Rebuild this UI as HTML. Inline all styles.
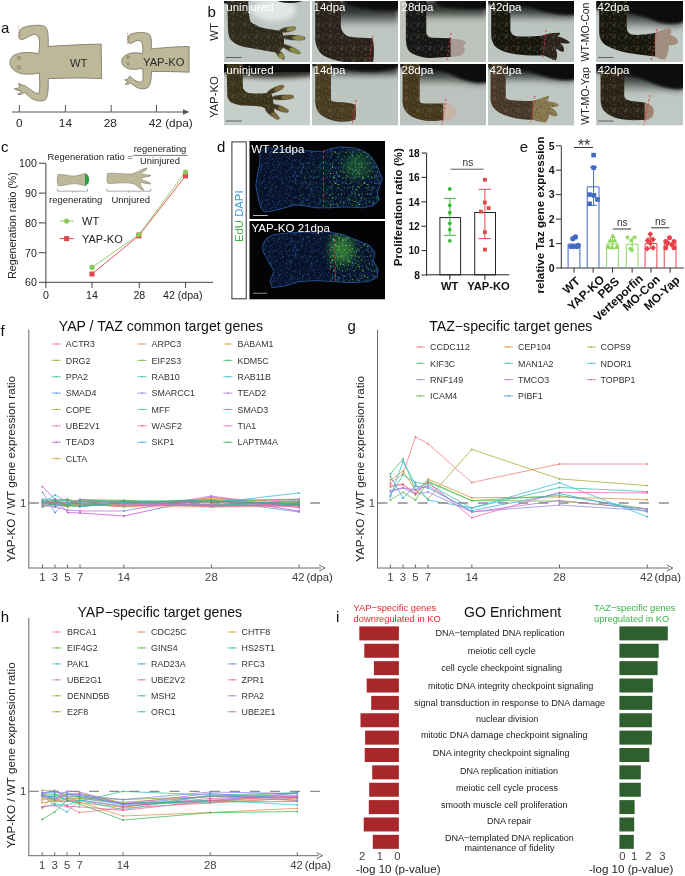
<!DOCTYPE html><html><head><meta charset="utf-8"><style>html,body{margin:0;padding:0;background:#fff;overflow:hidden;}svg{display:block;filter:blur(0.3px);}text{font-family:"Liberation Sans", sans-serif;}</style></head><body><svg width="685" height="876" viewBox="0 0 685 876" font-family='"Liberation Sans", sans-serif'>
<rect width="685" height="876" fill="#ffffff"/>
<text x="1.00" y="33.00" font-size="15" fill="#111" text-anchor="start" font-weight="normal" >a</text>
<path d="M62,265 C62,235 85,212 130,205 C170,198 215,205 240,210 C246,190 248,150 244,120 C240,100 230,88 210,90 C185,95 165,115 140,122 C125,125 118,112 118,95 C118,70 125,55 150,45 C190,32 250,28 280,40 C300,55 302,100 300,165 C380,160 500,152 630,150 L633,365 C520,358 400,362 300,365 C302,420 300,470 285,495 C265,510 230,505 200,490 C180,478 165,460 150,450 C140,462 120,470 110,462 C125,455 130,448 130,440 C115,440 98,436 90,428 C105,426 115,424 122,418 C122,410 118,402 115,395 C130,400 145,408 160,412 C190,430 215,458 240,458 C250,440 248,400 245,330 C210,338 175,340 140,335 C95,328 62,300 62,265 Z" transform="translate(0,20) scale(0.16059)" fill="#bdb898" stroke="#77735f" stroke-width="5"/>
<g transform="translate(0,20) scale(0.16059)" fill="none" stroke="#77735f" stroke-width="5"><circle cx="118" cy="237" r="10"/><circle cx="118" cy="296" r="10"/></g>
<line x1="18.95" y1="25.62" x2="18.95" y2="40.88" stroke="#e05050" stroke-width="0.7" stroke-dasharray="1.5,1.5"/>
<path d="M135,255 C135,232 160,212 200,205 C225,202 250,206 265,210 C268,190 268,165 262,145 C258,130 245,125 230,128 C215,133 200,145 185,147 C175,145 172,125 175,105 C180,88 210,80 245,78 C275,76 300,80 312,95 C322,115 320,150 320,180 C400,172 480,166 555,165 L555,325 C480,322 400,320 320,320 C320,360 318,395 300,418 C285,432 255,432 230,420 C212,410 200,398 190,392 C180,398 168,405 158,400 C166,393 170,388 172,383 C165,382 158,378 155,372 C165,372 172,368 178,362 C180,356 182,352 185,350 C195,358 210,372 230,382 C248,390 262,388 266,372 C270,350 268,330 265,300 C240,306 210,310 185,305 C155,298 135,280 135,255 Z" transform="translate(100,20) scale(0.16059)" fill="#bdb898" stroke="#77735f" stroke-width="5"/>
<g transform="translate(100,20) scale(0.16059)" fill="none" stroke="#77735f" stroke-width="5"><circle cx="175" cy="232" r="8"/><circle cx="175" cy="272" r="8"/></g>
<line x1="127.62" y1="32.85" x2="127.62" y2="44.89" stroke="#e05050" stroke-width="0.7" stroke-dasharray="1.5,1.5"/>
<text x="70.00" y="67.30" font-size="11.2" fill="#2a2a2a" text-anchor="start" font-weight="normal" >WT</text>
<text x="143.00" y="65.80" font-size="11.2" fill="#2a2a2a" text-anchor="start" font-weight="normal" >YAP-KO</text>
<line x1="12.00" y1="112.00" x2="186.00" y2="112.00" stroke="#555" stroke-width="1" />
<path d="M183,109.2 L189.5,112 L183,114.8 Z" fill="#555"/>
<line x1="19.30" y1="105.00" x2="19.30" y2="112.00" stroke="#555" stroke-width="1" />
<line x1="65.40" y1="105.00" x2="65.40" y2="112.00" stroke="#555" stroke-width="1" />
<line x1="111.20" y1="105.00" x2="111.20" y2="112.00" stroke="#555" stroke-width="1" />
<line x1="156.50" y1="105.00" x2="156.50" y2="112.00" stroke="#555" stroke-width="1" />
<text x="19.30" y="127.00" font-size="11.8" fill="#262626" text-anchor="middle" font-weight="normal" >0</text>
<text x="65.40" y="127.00" font-size="11.8" fill="#262626" text-anchor="middle" font-weight="normal" >14</text>
<text x="110.30" y="127.00" font-size="11.8" fill="#262626" text-anchor="middle" font-weight="normal" >28</text>
<text x="148.80" y="127.00" font-size="11.8" fill="#262626" text-anchor="start" font-weight="normal" >42 (dpa)</text>
<defs><filter id="soft" filterUnits="userSpaceOnUse" x="0" y="0" width="685" height="876"><feGaussianBlur stdDeviation="0.6"/></filter><filter id="blur2" filterUnits="userSpaceOnUse" x="0" y="0" width="685" height="876"><feGaussianBlur stdDeviation="2.5"/></filter><filter id="blur4" x="-20%" y="-50%" width="140%" height="200%"><feGaussianBlur stdDeviation="4"/></filter><filter id="sz" filterUnits="userSpaceOnUse" x="-3000" y="-3000" width="9000" height="9000"><feGaussianBlur stdDeviation="4.5"/></filter><filter id="sz2" filterUnits="userSpaceOnUse" x="-3000" y="-3000" width="9000" height="9000"><feGaussianBlur stdDeviation="9"/></filter><filter id="bz" filterUnits="userSpaceOnUse" x="-3000" y="-3000" width="9000" height="9000"><feGaussianBlur stdDeviation="30"/></filter><linearGradient id="shadowg" x1="0" y1="0" x2="0" y2="1"><stop offset="0" stop-color="#101210" stop-opacity="1"/><stop offset="0.5" stop-color="#262a27" stop-opacity="0.85"/><stop offset="0.8" stop-color="#50554f" stop-opacity="0.45"/><stop offset="1" stop-color="#707670" stop-opacity="0"/></linearGradient></defs>
<defs><pattern id="speck" width="90" height="90" patternUnits="userSpaceOnUse"><circle cx="56" cy="67" r="5.4" fill="#0a0806"/><circle cx="67" cy="83" r="3.1" fill="#c0b8a0"/><circle cx="70" cy="22" r="3.2" fill="#a89870"/><circle cx="10" cy="42" r="3.7" fill="#0a0806"/><circle cx="9" cy="22" r="5.2" fill="#c0b8a0"/><circle cx="25" cy="82" r="5.3" fill="#a89870"/><circle cx="69" cy="6" r="4.9" fill="#c0b8a0"/><circle cx="11" cy="0" r="5.6" fill="#a89870"/><circle cx="70" cy="86" r="3.5" fill="#a89870"/><circle cx="26" cy="87" r="4.6" fill="#0a0806"/><circle cx="56" cy="16" r="5.9" fill="#a89870"/><circle cx="87" cy="80" r="3.9" fill="#6a5a40"/><circle cx="37" cy="84" r="3.8" fill="#6a5a40"/><circle cx="27" cy="54" r="3.0" fill="#0a0806"/><circle cx="64" cy="6" r="4.1" fill="#6a5a40"/><circle cx="43" cy="28" r="4.4" fill="#0a0806"/><circle cx="16" cy="23" r="5.8" fill="#0a0806"/><circle cx="32" cy="36" r="4.6" fill="#c0b8a0"/><circle cx="33" cy="52" r="3.0" fill="#8a7a58"/><circle cx="64" cy="56" r="5.9" fill="#8a7a58"/><circle cx="68" cy="84" r="5.8" fill="#6a5a40"/><circle cx="46" cy="80" r="3.8" fill="#c0b8a0"/></pattern><pattern id="speckR" width="90" height="90" patternUnits="userSpaceOnUse" patternTransform="scale(0.13139)"><circle cx="56" cy="67" r="5.4" fill="#0a0806"/><circle cx="67" cy="83" r="3.1" fill="#c0b8a0"/><circle cx="70" cy="22" r="3.2" fill="#a89870"/><circle cx="10" cy="42" r="3.7" fill="#0a0806"/><circle cx="9" cy="22" r="5.2" fill="#c0b8a0"/><circle cx="25" cy="82" r="5.3" fill="#a89870"/><circle cx="69" cy="6" r="4.9" fill="#c0b8a0"/><circle cx="11" cy="0" r="5.6" fill="#a89870"/><circle cx="70" cy="86" r="3.5" fill="#a89870"/><circle cx="26" cy="87" r="4.6" fill="#0a0806"/><circle cx="56" cy="16" r="5.9" fill="#a89870"/><circle cx="87" cy="80" r="3.9" fill="#6a5a40"/><circle cx="37" cy="84" r="3.8" fill="#6a5a40"/><circle cx="27" cy="54" r="3.0" fill="#0a0806"/><circle cx="64" cy="6" r="4.1" fill="#6a5a40"/><circle cx="43" cy="28" r="4.4" fill="#0a0806"/><circle cx="16" cy="23" r="5.8" fill="#0a0806"/><circle cx="32" cy="36" r="4.6" fill="#c0b8a0"/><circle cx="33" cy="52" r="3.0" fill="#8a7a58"/><circle cx="64" cy="56" r="5.9" fill="#8a7a58"/><circle cx="68" cy="84" r="5.8" fill="#6a5a40"/><circle cx="46" cy="80" r="3.8" fill="#c0b8a0"/></pattern></defs>
<text x="207.50" y="16.60" font-size="15" fill="#111" text-anchor="start" font-weight="normal" >b</text>
<text x="0.00" y="0.00" font-size="11.3" fill="#222" text-anchor="middle" font-weight="normal" transform="translate(217.8,32) rotate(-90)">WT</text>
<text x="0.00" y="0.00" font-size="11.3" fill="#222" text-anchor="middle" font-weight="normal" transform="translate(217.8,97.2) rotate(-90)">YAP-KO</text>
<text x="0.00" y="0.00" font-size="10.5" fill="#222" text-anchor="middle" font-weight="normal" transform="translate(588.6,32) rotate(-90)">WT-MO-Con</text>
<text x="0.00" y="0.00" font-size="10.5" fill="#222" text-anchor="middle" font-weight="normal" transform="translate(588.6,96) rotate(-90)">WT-MO-Yap</text>
<clipPath id="c00"><rect x="224" y="1" width="86" height="61"/></clipPath>
<g clip-path="url(#c00)">
<rect x="224.00" y="1.00" width="86.00" height="61.00" fill="#bec7c2" />
<ellipse cx="274" cy="10" rx="22" ry="11" fill="#e2e7e4" filter="url(#blur2)"/>
<ellipse cx="290" cy="0" rx="13" ry="3" fill="#1a1a18"/>
<ellipse cx="232" cy="0" rx="14" ry="4" fill="#1a1a18"/>
<path d="M227.3,0 L248.3,0 C248.6,8 249,16 250.2,21 C251.5,23 253,24 254.8,24.3 C257,25.8 259,27 261.4,27.6 C265,28.7 268.5,29.3 271.9,29.6 C275,30.2 278,30.6 281,31 C284,34 285,42 283,48 C280,51 278,52.6 275.9,52.6 C271,51.5 266,50.5 261.4,49.9 C256,49 250,48.2 245.7,47.3 C241,46 237.5,45 235.1,43.4 C232,41.5 230,39 229.2,36.8 C228.2,33 227.9,30 227.9,26.3 Z" fill="#2f2a1e" filter="url(#soft)"/>
<path d="M227.3,0 L248.3,0 C248.6,8 249,16 250.2,21 C251.5,23 253,24 254.8,24.3 C257,25.8 259,27 261.4,27.6 C265,28.7 268.5,29.3 271.9,29.6 C275,30.2 278,30.6 281,31 C284,34 285,42 283,48 C280,51 278,52.6 275.9,52.6 C271,51.5 266,50.5 261.4,49.9 C256,49 250,48.2 245.7,47.3 C241,46 237.5,45 235.1,43.4 C232,41.5 230,39 229.2,36.8 C228.2,33 227.9,30 227.9,26.3 Z" fill="url(#speckR)" opacity="0.5"/>
<ellipse cx="287.50" cy="29.60" rx="8.63" ry="2.60" transform="rotate(-10.6 287.50 29.60)" fill="#3a3320" filter="url(#soft)"/>
<ellipse cx="290.80" cy="28.98" rx="4.58" ry="2.21" transform="rotate(-10.6 290.80 28.98)" fill="#8e8c4a" filter="url(#soft)"/>
<ellipse cx="293.75" cy="37.65" rx="11.77" ry="2.60" transform="rotate(3.5 293.75 37.65)" fill="#3a3320" filter="url(#soft)"/>
<ellipse cx="298.48" cy="37.94" rx="6.46" ry="2.21" transform="rotate(3.5 298.48 37.94)" fill="#8e8c4a" filter="url(#soft)"/>
<ellipse cx="290.75" cy="49.00" rx="10.62" ry="2.60" transform="rotate(24.6 290.75 49.00)" fill="#3a3320" filter="url(#soft)"/>
<ellipse cx="294.60" cy="50.76" rx="5.77" ry="2.21" transform="rotate(24.6 294.60 50.76)" fill="#8e8c4a" filter="url(#soft)"/>
<ellipse cx="279.75" cy="54.15" rx="6.59" ry="2.60" transform="rotate(47.9 279.75 54.15)" fill="#3a3320" filter="url(#soft)"/>
<ellipse cx="281.40" cy="55.98" rx="3.36" ry="2.21" transform="rotate(47.9 281.40 55.98)" fill="#8e8c4a" filter="url(#soft)"/>
<line x1="226.00" y1="57.50" x2="241.70" y2="57.50" stroke="#555" stroke-width="0.9" />
</g>
<text x="226.30" y="11.20" font-size="11.5" fill="#ffffff" text-anchor="start" font-weight="normal" >uninjured</text>
<clipPath id="c10"><rect x="312" y="1" width="86" height="61"/></clipPath>
<g clip-path="url(#c10)">
<rect x="312.00" y="1.00" width="86.00" height="61.00" fill="#bec7c2" />
<rect x="336" y="1" width="62" height="26" fill="url(#shadowg)" filter="url(#blur2)"/>
<g transform="translate(310,0) scale(0.13139)">
<path d="M250,-10 L690,-10 L690,70 C600,95 450,80 330,50 C290,40 260,25 250,-10 Z" fill="#3a3c3a" filter="url(#bz)" opacity="0.85"/>
<path d="M250,-10 L690,-10 L690,70 C600,95 450,80 330,50 C290,40 260,25 250,-10 Z" fill="#0d0d0c" filter="url(#sz2)"/>
<path d="M40,-10 L235,-10 L235,200 C240,240 260,265 300,280 C380,288 440,290 475,292 C490,340 490,420 480,470 L300,475 C230,472 150,450 100,420 C60,390 45,350 40,300 Z" fill="#29231a" filter="url(#sz)"/><path d="M40,-10 L235,-10 L235,200 C240,240 260,265 300,280 C380,288 440,290 475,292 C490,340 490,420 480,470 L300,475 C230,472 150,450 100,420 C60,390 45,350 40,300 Z" fill="url(#speck)" opacity="0.55"/>
</g>
<path d="M373,36 L369,62" stroke="#e0303a" stroke-width="0.9" fill="none" stroke-dasharray="2.2,2"/>
</g>
<text x="313.50" y="11.20" font-size="11.5" fill="#ffffff" text-anchor="start" font-weight="normal" >14dpa</text>
<clipPath id="c20"><rect x="400" y="1" width="86" height="61"/></clipPath>
<g clip-path="url(#c20)">
<rect x="400.00" y="1.00" width="86.00" height="61.00" fill="#bec3bd" />
<rect x="422" y="1" width="64" height="20" fill="url(#shadowg)" filter="url(#blur2)"/>
<g transform="translate(398,0) scale(0.13139)">
<path d="M280,-10 L690,-10 L690,60 C600,75 420,70 330,50 C300,40 285,20 280,-10 Z" fill="#3a3c3a" filter="url(#bz)" opacity="0.85"/>
<path d="M280,-10 L690,-10 L690,60 C600,75 420,70 330,50 C300,40 285,20 280,-10 Z" fill="#0d0d0c" filter="url(#sz2)"/>
<path d="M60,-10 L215,-10 L215,250 C220,275 235,285 260,288 L405,292 L405,432 L250,442 C180,440 120,420 85,390 C65,365 60,330 60,300 Z" fill="#151512" filter="url(#sz)"/><path d="M60,-10 L215,-10 L215,250 C220,275 235,285 260,288 L405,292 L405,432 L250,442 C180,440 120,420 85,390 C65,365 60,330 60,300 Z" fill="url(#speck)" opacity="0.55"/>
<path d="M400,295 C440,292 490,300 520,320 C515,340 495,345 500,360 C515,375 510,405 480,420 C450,432 420,433 400,432 Z" fill="#a89a92" filter="url(#sz)"/>
</g>
<path d="M451,33 L447,60" stroke="#e0303a" stroke-width="0.9" fill="none" stroke-dasharray="2.2,2"/>
</g>
<text x="401.50" y="11.20" font-size="11.5" fill="#ffffff" text-anchor="start" font-weight="normal" >28dpa</text>
<clipPath id="c30"><rect x="488" y="1" width="86" height="61"/></clipPath>
<g clip-path="url(#c30)">
<rect x="488.00" y="1.00" width="86.00" height="61.00" fill="#bcc5c0" />
<rect x="506" y="1" width="68" height="21" fill="url(#shadowg)" filter="url(#blur2)"/>
<g transform="translate(486,0) scale(0.13139)">
<path d="M15,-10 L690,-10 L690,110 C600,120 480,100 380,70 C300,50 200,40 15,30 Z" fill="#3a3c3a" filter="url(#bz)" opacity="0.85"/>
<path d="M15,-10 L690,-10 L690,110 C600,120 480,100 380,70 C300,50 200,40 15,30 Z" fill="#0d0d0c" filter="url(#sz2)"/>
<path d="M40,-10 L185,-10 L185,230 C190,255 205,270 230,276 C300,282 380,276 440,270 L440,420 C380,425 300,422 230,412 C150,400 90,380 60,340 C45,310 40,290 40,270 Z" fill="#121210" filter="url(#sz)"/><path d="M40,-10 L185,-10 L185,230 C190,255 205,270 230,276 C300,282 380,276 440,270 L440,420 C380,425 300,422 230,412 C150,400 90,380 60,340 C45,310 40,290 40,270 Z" fill="url(#speck)" opacity="0.55"/>
<path d="M430,270 C470,255 510,250 560,250 C570,258 560,268 540,275 C580,285 620,300 640,325 C620,335 590,330 560,330 C590,345 600,370 590,395 C570,395 550,380 530,370 C540,400 550,430 530,460 C500,455 470,430 430,420 Z" fill="#2a221d" filter="url(#sz)"/><path d="M430,270 C470,255 510,250 560,250 C570,258 560,268 540,275 C580,285 620,300 640,325 C620,335 590,330 560,330 C590,345 600,370 590,395 C570,395 550,380 530,370 C540,400 550,430 530,460 C500,455 470,430 430,420 Z" fill="url(#speck)" opacity="0.55"/>
</g>
<path d="M546,30 L543,58" stroke="#e0303a" stroke-width="0.9" fill="none" stroke-dasharray="2.2,2"/>
</g>
<text x="489.50" y="11.20" font-size="11.5" fill="#ffffff" text-anchor="start" font-weight="normal" >42dpa</text>
<clipPath id="c40"><rect x="596" y="1" width="87" height="61"/></clipPath>
<g clip-path="url(#c40)">
<rect x="596.00" y="1.00" width="87.00" height="61.00" fill="#c2cac5" />
<rect x="620" y="1" width="63" height="30" fill="url(#shadowg)" filter="url(#blur2)"/>
<g transform="translate(594,0) scale(0.13139)">
<path d="M15,-10 L690,-10 L690,160 C640,185 560,190 470,160 C400,130 300,90 15,70 Z" fill="#3a3c3a" filter="url(#bz)" opacity="0.85"/>
<path d="M15,-10 L690,-10 L690,160 C640,185 560,190 470,160 C400,130 300,90 15,70 Z" fill="#0d0d0c" filter="url(#sz2)"/>
<path d="M40,-10 L250,-10 L250,220 C255,245 270,260 300,265 C380,268 430,258 475,250 L475,430 C420,428 350,418 300,410 C220,398 150,380 90,345 C55,320 42,290 40,250 Z" fill="#151511" filter="url(#sz)"/><path d="M40,-10 L250,-10 L250,220 C255,245 270,260 300,265 C380,268 430,258 475,250 L475,430 C420,428 350,418 300,410 C220,398 150,380 90,345 C55,320 42,290 40,250 Z" fill="url(#speck)" opacity="0.55"/>
<path d="M465,250 C500,235 540,225 570,212 C590,215 595,240 580,265 C610,275 640,295 640,320 C630,345 600,345 570,345 C570,380 560,420 545,450 C520,460 490,445 465,430 Z" fill="#a28e7e" filter="url(#sz)"/>
</g>
<path d="M657,29 L651,62" stroke="#e0303a" stroke-width="0.9" fill="none" stroke-dasharray="2.2,2"/>
<line x1="598.00" y1="57.50" x2="613.70" y2="57.50" stroke="#555" stroke-width="0.9" />
</g>
<text x="597.50" y="11.20" font-size="11.5" fill="#ffffff" text-anchor="start" font-weight="normal" >42dpa</text>
<clipPath id="c01"><rect x="224" y="64" width="86" height="61.5"/></clipPath>
<g clip-path="url(#c01)">
<rect x="224.00" y="64.00" width="86.00" height="61.50" fill="#c6cec9" />
<ellipse cx="275" cy="68" rx="60" ry="10" fill="#2a2a28" filter="url(#blur2)"/>
<rect x="224" y="64" width="86" height="8" fill="#0c0c0c"/>
<path d="M226.6,64 L243,64 C243,72 242.5,82 243,88.3 C244.5,91 246.5,92.5 248.3,92.9 C253,93.5 257,93.6 261.4,93.5 C265,93.2 268,92.8 270.6,92.2 C273,96 274,106 274.6,114.6 C270,111 265.5,108 261.4,106.7 C255,105.8 248,105.6 241.7,105.4 C236,104.5 232,103 229.9,101.4 C227.8,99 227.3,97 227.3,94.8 Z" fill="#3a311f" filter="url(#soft)"/>
<path d="M226.6,64 L243,64 C243,72 242.5,82 243,88.3 C244.5,91 246.5,92.5 248.3,92.9 C253,93.5 257,93.6 261.4,93.5 C265,93.2 268,92.8 270.6,92.2 C273,96 274,106 274.6,114.6 C270,111 265.5,108 261.4,106.7 C255,105.8 248,105.6 241.7,105.4 C236,104.5 232,103 229.9,101.4 C227.8,99 227.3,97 227.3,94.8 Z" fill="url(#speckR)" opacity="0.5"/>
<ellipse cx="275.55" cy="89.65" rx="9.26" ry="2.60" transform="rotate(-23.9 275.55 89.65)" fill="#3e3420" filter="url(#soft)"/>
<ellipse cx="278.87" cy="88.18" rx="4.96" ry="2.21" transform="rotate(-23.9 278.87 88.18)" fill="#7c6a3a" filter="url(#soft)"/>
<ellipse cx="282.50" cy="97.40" rx="11.52" ry="2.60" transform="rotate(-3.3 282.50 97.40)" fill="#3e3420" filter="url(#soft)"/>
<ellipse cx="287.12" cy="97.14" rx="6.31" ry="2.21" transform="rotate(-3.3 287.12 97.14)" fill="#7c6a3a" filter="url(#soft)"/>
<ellipse cx="279.35" cy="108.15" rx="9.92" ry="2.60" transform="rotate(20.7 279.35 108.15)" fill="#3e3420" filter="url(#soft)"/>
<ellipse cx="283.02" cy="109.54" rx="5.35" ry="2.21" transform="rotate(20.7 283.02 109.54)" fill="#7c6a3a" filter="url(#soft)"/>
<ellipse cx="272.25" cy="113.75" rx="8.85" ry="2.60" transform="rotate(37.2 272.25 113.75)" fill="#3e3420" filter="url(#soft)"/>
<ellipse cx="275.00" cy="115.84" rx="4.71" ry="2.21" transform="rotate(37.2 275.00 115.84)" fill="#7c6a3a" filter="url(#soft)"/>
<line x1="226.00" y1="121.00" x2="241.70" y2="121.00" stroke="#555" stroke-width="0.9" />
</g>
<text x="226.30" y="73.80" font-size="11.5" fill="#ffffff" text-anchor="start" font-weight="normal" >uninjured</text>
<clipPath id="c11"><rect x="312" y="64" width="86" height="61.5"/></clipPath>
<g clip-path="url(#c11)">
<rect x="312.00" y="64.00" width="86.00" height="61.50" fill="#bcc5c0" />
<rect x="324" y="64" width="74" height="14" fill="url(#shadowg)" filter="url(#blur2)"/>
<g transform="translate(310,62) scale(0.13139)">
<path d="M15,0 L690,0 L690,30 C600,75 450,80 330,65 C260,55 150,40 15,30 Z" fill="#3a3c3a" filter="url(#bz)" opacity="0.85"/>
<path d="M15,0 L690,0 L690,30 C600,75 450,80 330,65 C260,55 150,40 15,30 Z" fill="#0d0d0c" filter="url(#sz2)"/>
<path d="M40,0 L160,0 L160,290 C165,300 180,305 250,306 C300,310 330,318 345,325 C352,360 352,410 345,440 C300,455 250,458 200,450 C130,440 80,410 55,370 C45,340 40,320 40,300 Z" fill="#4a3b24" filter="url(#sz)"/><path d="M40,0 L160,0 L160,290 C165,300 180,305 250,306 C300,310 330,318 345,325 C352,360 352,410 345,440 C300,455 250,458 200,450 C130,440 80,410 55,370 C45,340 40,320 40,300 Z" fill="url(#speck)" opacity="0.55"/>
</g>
<path d="M356,100 L352,125" stroke="#e0303a" stroke-width="0.9" fill="none" stroke-dasharray="2.2,2"/>
</g>
<text x="313.50" y="73.80" font-size="11.5" fill="#ffffff" text-anchor="start" font-weight="normal" >14dpa</text>
<clipPath id="c21"><rect x="400" y="64" width="86" height="61.5"/></clipPath>
<g clip-path="url(#c21)">
<rect x="400.00" y="64.00" width="86.00" height="61.50" fill="#bcc2bd" />
<rect x="414" y="64" width="72" height="22" fill="url(#shadowg)" filter="url(#blur2)"/>
<g transform="translate(398,62) scale(0.13139)">
<path d="M15,0 L690,0 L690,150 C620,170 520,150 420,100 C360,70 250,50 15,40 Z" fill="#3a3c3a" filter="url(#bz)" opacity="0.85"/>
<path d="M15,0 L690,0 L690,150 C620,170 520,150 420,100 C360,70 250,50 15,40 Z" fill="#0d0d0c" filter="url(#sz2)"/>
<path d="M35,0 L165,0 L165,300 C170,312 185,316 220,316 L352,316 L352,440 C300,450 250,452 200,445 C130,435 80,410 55,370 C40,345 35,320 35,300 Z" fill="#45371f" filter="url(#sz)"/><path d="M35,0 L165,0 L165,300 C170,312 185,316 220,316 L352,316 L352,440 C300,450 250,452 200,445 C130,435 80,410 55,370 C40,345 35,320 35,300 Z" fill="url(#speck)" opacity="0.55"/>
<path d="M345,315 C385,312 425,325 440,355 C448,385 440,420 410,435 C385,442 365,442 345,440 Z" fill="#c4b5a6" filter="url(#sz)"/>
</g>
<path d="M446,99 L442,125" stroke="#e0303a" stroke-width="0.9" fill="none" stroke-dasharray="2.2,2"/>
</g>
<text x="401.50" y="73.80" font-size="11.5" fill="#ffffff" text-anchor="start" font-weight="normal" >28dpa</text>
<clipPath id="c31"><rect x="488" y="64" width="86" height="61.5"/></clipPath>
<g clip-path="url(#c31)">
<rect x="488.00" y="64.00" width="86.00" height="61.50" fill="#bec7c2" />
<rect x="499" y="64" width="75" height="20" fill="url(#shadowg)" filter="url(#blur2)"/>
<g transform="translate(486,62) scale(0.13139)">
<path d="M15,0 L690,0 L690,130 C620,150 500,130 400,95 C330,70 250,55 15,45 Z" fill="#3a3c3a" filter="url(#bz)" opacity="0.85"/>
<path d="M15,0 L690,0 L690,130 C620,150 500,130 400,95 C330,70 250,55 15,45 Z" fill="#0d0d0c" filter="url(#sz2)"/>
<path d="M35,0 L150,0 L150,270 C160,285 175,292 250,295 C300,297 330,297 365,295 L365,440 C300,440 250,432 200,422 C130,405 80,380 55,345 C40,320 35,300 35,280 Z" fill="#47392a" filter="url(#sz)"/><path d="M35,0 L150,0 L150,270 C160,285 175,292 250,295 C300,297 330,297 365,295 L365,440 C300,440 250,432 200,422 C130,405 80,380 55,345 C40,320 35,300 35,280 Z" fill="url(#speck)" opacity="0.55"/>
<path d="M355,295 C400,285 440,265 470,258 C485,262 480,280 460,295 C500,305 545,310 555,330 C545,345 510,345 490,340 C520,360 545,380 545,405 C530,420 500,410 480,400 C480,420 470,450 450,460 C420,460 390,450 355,440 Z" fill="#887850" filter="url(#sz)"/><path d="M355,295 C400,285 440,265 470,258 C485,262 480,280 460,295 C500,305 545,310 555,330 C545,345 510,345 490,340 C520,360 545,380 545,405 C530,420 500,410 480,400 C480,420 470,450 450,460 C420,460 390,450 355,440 Z" fill="url(#speck)" opacity="0.55"/>
</g>
<path d="M535,96 L531,122" stroke="#e0303a" stroke-width="0.9" fill="none" stroke-dasharray="2.2,2"/>
</g>
<text x="489.50" y="73.80" font-size="11.5" fill="#ffffff" text-anchor="start" font-weight="normal" >42dpa</text>
<clipPath id="c41"><rect x="596" y="64" width="87" height="61.5"/></clipPath>
<g clip-path="url(#c41)">
<rect x="596.00" y="64.00" width="87.00" height="61.50" fill="#c0c8c3" />
<rect x="618" y="64" width="65" height="30" fill="url(#shadowg)" filter="url(#blur2)"/>
<g transform="translate(594,62) scale(0.13139)">
<path d="M15,0 L690,0 L690,200 C640,215 540,200 420,150 C340,115 250,95 15,80 Z" fill="#3a3c3a" filter="url(#bz)" opacity="0.85"/>
<path d="M15,0 L690,0 L690,200 C640,215 540,200 420,150 C340,115 250,95 15,80 Z" fill="#0d0d0c" filter="url(#sz2)"/>
<path d="M50,60 L230,60 L230,260 C235,280 255,292 300,298 C340,302 370,305 395,310 L395,440 C330,445 270,445 210,435 C140,422 90,395 65,355 C52,330 50,300 50,280 Z" fill="#2a2418" filter="url(#sz)"/><path d="M50,60 L230,60 L230,260 C235,280 255,292 300,298 C340,302 370,305 395,310 L395,440 C330,445 270,445 210,435 C140,422 90,395 65,355 C52,330 50,300 50,280 Z" fill="url(#speck)" opacity="0.55"/>
<path d="M385,312 C420,315 450,335 455,370 C455,405 440,430 410,440 L385,440 Z" fill="#a08272" filter="url(#sz)"/>
</g>
<path d="M650,95 L644,125" stroke="#e0303a" stroke-width="0.9" fill="none" stroke-dasharray="2.2,2"/>
<line x1="598.00" y1="121.00" x2="613.70" y2="121.00" stroke="#555" stroke-width="0.9" />
</g>
<text x="597.50" y="73.80" font-size="11.5" fill="#ffffff" text-anchor="start" font-weight="normal" >42dpa</text>
<text x="1.00" y="152.00" font-size="15" fill="#111" text-anchor="start" font-weight="normal" >c</text>
<line x1="45.90" y1="163.30" x2="45.90" y2="282.80" stroke="#444" stroke-width="1" />
<line x1="45.40" y1="282.30" x2="213.10" y2="282.30" stroke="#444" stroke-width="1" />
<line x1="38.90" y1="163.30" x2="45.90" y2="163.30" stroke="#444" stroke-width="1" />
<text x="36.80" y="167.10" font-size="10.6" fill="#222" text-anchor="end" font-weight="normal" >100</text>
<line x1="38.90" y1="193.10" x2="45.90" y2="193.10" stroke="#444" stroke-width="1" />
<text x="36.80" y="196.90" font-size="10.6" fill="#222" text-anchor="end" font-weight="normal" >90</text>
<line x1="38.90" y1="222.90" x2="45.90" y2="222.90" stroke="#444" stroke-width="1" />
<text x="36.80" y="226.70" font-size="10.6" fill="#222" text-anchor="end" font-weight="normal" >80</text>
<line x1="38.90" y1="252.70" x2="45.90" y2="252.70" stroke="#444" stroke-width="1" />
<text x="36.80" y="256.50" font-size="10.6" fill="#222" text-anchor="end" font-weight="normal" >70</text>
<line x1="38.90" y1="282.30" x2="45.90" y2="282.30" stroke="#444" stroke-width="1" />
<text x="36.80" y="286.10" font-size="10.6" fill="#222" text-anchor="end" font-weight="normal" >60</text>
<line x1="45.90" y1="282.30" x2="45.90" y2="288.00" stroke="#444" stroke-width="1" />
<line x1="92.00" y1="282.30" x2="92.00" y2="288.00" stroke="#444" stroke-width="1" />
<line x1="139.30" y1="282.30" x2="139.30" y2="288.00" stroke="#444" stroke-width="1" />
<line x1="185.50" y1="282.30" x2="185.50" y2="288.00" stroke="#444" stroke-width="1" />
<text x="45.90" y="298.60" font-size="10.6" fill="#222" text-anchor="middle" font-weight="normal" >0</text>
<text x="92.00" y="298.60" font-size="10.6" fill="#222" text-anchor="middle" font-weight="normal" >14</text>
<text x="139.30" y="298.60" font-size="10.6" fill="#222" text-anchor="middle" font-weight="normal" >28</text>
<text x="163.00" y="298.60" font-size="10.6" fill="#222" text-anchor="start" font-weight="normal" >42 (dpa)</text>
<text x="0.00" y="0.00" font-size="10.6" fill="#222" text-anchor="middle" font-weight="normal" transform="translate(15.6,225.5) rotate(-90)">Regeneration ratio (%)</text>
<text x="47.60" y="159.60" font-size="9.4" fill="#222" text-anchor="start" font-weight="normal" >Regeneration ratio =</text>
<text x="160.00" y="151.70" font-size="9.4" fill="#222" text-anchor="middle" font-weight="normal" >regenerating</text>
<line x1="133.30" y1="155.40" x2="187.60" y2="155.40" stroke="#555" stroke-width="0.8" />
<text x="160.00" y="164.20" font-size="9.4" fill="#222" text-anchor="middle" font-weight="normal" >Uninjured</text>
<path d="M58,174.5 C64,173.8 70,176.5 75,176 C80,175.5 84,173.3 86,173.6 L86,185.6 C83,186 80,184 75,183.6 C70,183.4 64,186.5 58,185.6 C57,182 57,178 58,174.5 Z" fill="#bdb898" stroke="#77735f" stroke-width="0.5"/>
<path d="M85,173.6 C88,174.5 89.2,177 89.2,179.6 C89.2,182.5 88,185 85,185.7 Z" fill="#2e9e3a"/>
<path d="M107.5,173.5 C115,172.5 125,174.5 132,174 C138,172 142,169 146,168 C148,167.8 147.5,169.5 145,170.8 C143,172 141,173.5 142,174.3 C145,174.8 149,174.5 151,175.6 C149,176.8 146,176.8 143,177.5 C141,178 141,179.2 143,180 C146,181.5 149.5,182 150.8,183.8 C148,184.2 144,183 141,182.4 C139,183.5 142,187 144,190.3 C142,190.5 139,188 136,185 C132,182.5 125,182.8 118,183 C112,183.3 109,184 107.5,183 C106.8,180 106.8,176.5 107.5,173.5 Z" fill="#bdb898" stroke="#77735f" stroke-width="0.5"/>
<path d="M57.5,188.5 L57.5,191.2 L87.6,191.2 L87.6,188.5 M72.5,191.2 L72.5,192.8" stroke="#888" stroke-width="0.7" fill="none"/>
<path d="M107.0,188.5 L107.0,191.2 L150.8,191.2 L150.8,188.5 M128.9,191.2 L128.9,192.8" stroke="#888" stroke-width="0.7" fill="none"/>
<text x="49.00" y="202.80" font-size="9.5" fill="#222" text-anchor="start" font-weight="normal" >regenerating</text>
<text x="111.40" y="202.80" font-size="9.5" fill="#222" text-anchor="start" font-weight="normal" >Unnjured</text>
<line x1="59.60" y1="221.10" x2="73.60" y2="221.10" stroke="#8cc95c" stroke-width="1" />
<circle cx="66.6" cy="221.1" r="2.6" fill="#8cc95c"/>
<text x="82.00" y="225.40" font-size="11" fill="#222" text-anchor="start" font-weight="normal" >WT</text>
<line x1="59.60" y1="238.60" x2="73.60" y2="238.60" stroke="#e0474c" stroke-width="1" />
<rect x="64.10" y="236.10" width="5.00" height="5.00" fill="#e0474c" />
<text x="82.00" y="242.90" font-size="11" fill="#222" text-anchor="start" font-weight="normal" >YAP-KO</text>
<polyline points="92,274 138.9,235.6 185.5,175.9" fill="none" stroke="#e0474c" stroke-width="0.9"/>
<polyline points="92,267.4 138.9,234.6 185.5,172" fill="none" stroke="#8cc95c" stroke-width="0.9"/>
<line x1="89.50" y1="272.50" x2="94.50" y2="272.50" stroke="#e0474c" stroke-width="0.6" />
<line x1="89.50" y1="275.50" x2="94.50" y2="275.50" stroke="#e0474c" stroke-width="0.6" />
<rect x="89.50" y="271.50" width="5.00" height="5.00" fill="#e0474c" />
<line x1="136.40" y1="233.10" x2="141.40" y2="233.10" stroke="#e0474c" stroke-width="0.6" />
<line x1="136.40" y1="238.10" x2="141.40" y2="238.10" stroke="#e0474c" stroke-width="0.6" />
<rect x="136.40" y="233.10" width="5.00" height="5.00" fill="#e0474c" />
<line x1="183.00" y1="174.70" x2="188.00" y2="174.70" stroke="#e0474c" stroke-width="0.6" />
<line x1="183.00" y1="177.10" x2="188.00" y2="177.10" stroke="#e0474c" stroke-width="0.6" />
<rect x="183.00" y="173.40" width="5.00" height="5.00" fill="#e0474c" />
<line x1="90.00" y1="265.60" x2="94.00" y2="265.60" stroke="#8cc95c" stroke-width="0.6" />
<line x1="90.00" y1="269.20" x2="94.00" y2="269.20" stroke="#8cc95c" stroke-width="0.6" />
<circle cx="92" cy="267.4" r="2.6" fill="#8cc95c"/>
<line x1="136.90" y1="233.10" x2="140.90" y2="233.10" stroke="#8cc95c" stroke-width="0.6" />
<line x1="136.90" y1="236.10" x2="140.90" y2="236.10" stroke="#8cc95c" stroke-width="0.6" />
<circle cx="138.9" cy="234.6" r="2.6" fill="#8cc95c"/>
<line x1="183.50" y1="171.00" x2="187.50" y2="171.00" stroke="#8cc95c" stroke-width="0.6" />
<line x1="183.50" y1="173.00" x2="187.50" y2="173.00" stroke="#8cc95c" stroke-width="0.6" />
<circle cx="185.5" cy="172" r="2.6" fill="#8cc95c"/>
<text x="217.00" y="151.90" font-size="15" fill="#111" text-anchor="start" font-weight="normal" >d</text>
<rect x="231.9" y="141.9" width="14.3" height="156.9" fill="none" stroke="#333" stroke-width="1"/>
<text transform="translate(243.3,216.2) rotate(-90)" font-size="11.3" text-anchor="middle"><tspan fill="#3fae49">EdU</tspan><tspan fill="#3b9bd8"> DAPI</tspan></text>
<rect x="249.50" y="141.00" width="135.50" height="78.00" fill="#040406" />
<rect x="249.50" y="221.00" width="135.50" height="78.30" fill="#040406" />
<defs><pattern id="bluedots" width="41" height="37" patternUnits="userSpaceOnUse"><rect width="41" height="37" fill="#08132a"/><circle cx="18.5" cy="20.7" r="0.53" fill="#183f80"/><circle cx="18.5" cy="31.6" r="0.35" fill="#3a70c0"/><circle cx="19.5" cy="22.7" r="0.35" fill="#183f80"/><circle cx="12.4" cy="3.4" r="0.50" fill="#14366e"/><circle cx="26.0" cy="22.0" r="0.40" fill="#183f80"/><circle cx="26.8" cy="22.8" r="0.34" fill="#2a5aa8"/><circle cx="34.1" cy="2.3" r="0.31" fill="#1f4c94"/><circle cx="24.6" cy="28.8" r="0.38" fill="#3a70c0"/><circle cx="34.5" cy="19.2" r="0.46" fill="#183f80"/><circle cx="0.2" cy="3.1" r="0.46" fill="#183f80"/><circle cx="40.9" cy="36.8" r="0.51" fill="#14366e"/><circle cx="10.4" cy="28.0" r="0.43" fill="#2a5aa8"/><circle cx="2.9" cy="28.4" r="0.40" fill="#305fb0"/><circle cx="15.8" cy="35.4" r="0.51" fill="#2a5aa8"/><circle cx="8.8" cy="34.3" r="0.31" fill="#183f80"/><circle cx="40.2" cy="14.7" r="0.32" fill="#14366e"/><circle cx="8.1" cy="25.0" r="0.38" fill="#305fb0"/><circle cx="13.6" cy="35.7" r="0.49" fill="#2a5aa8"/><circle cx="5.5" cy="26.2" r="0.30" fill="#183f80"/><circle cx="32.7" cy="6.6" r="0.44" fill="#183f80"/><circle cx="20.9" cy="36.5" r="0.49" fill="#183f80"/><circle cx="26.4" cy="4.3" r="0.41" fill="#1f4c94"/><circle cx="0.0" cy="32.0" r="0.54" fill="#3a70c0"/><circle cx="12.5" cy="32.7" r="0.35" fill="#183f80"/><circle cx="40.8" cy="22.3" r="0.44" fill="#2a5aa8"/><circle cx="40.6" cy="7.9" r="0.36" fill="#3a70c0"/><circle cx="13.5" cy="11.0" r="0.32" fill="#2a5aa8"/><circle cx="8.6" cy="23.6" r="0.30" fill="#305fb0"/><circle cx="15.2" cy="16.8" r="0.54" fill="#183f80"/><circle cx="34.1" cy="5.0" r="0.40" fill="#14366e"/><circle cx="6.3" cy="33.6" r="0.50" fill="#1f4c94"/><circle cx="29.7" cy="5.9" r="0.46" fill="#3a70c0"/><circle cx="8.1" cy="35.2" r="0.52" fill="#3a70c0"/><circle cx="3.2" cy="1.8" r="0.33" fill="#3a70c0"/><circle cx="39.5" cy="8.8" r="0.48" fill="#305fb0"/><circle cx="17.3" cy="33.5" r="0.42" fill="#3a70c0"/><circle cx="7.2" cy="26.7" r="0.32" fill="#1f4c94"/><circle cx="19.7" cy="24.2" r="0.45" fill="#2a5aa8"/><circle cx="11.5" cy="33.9" r="0.35" fill="#2a5aa8"/><circle cx="2.8" cy="15.2" r="0.36" fill="#2a5aa8"/><circle cx="7.2" cy="13.6" r="0.44" fill="#1f4c94"/><circle cx="3.8" cy="5.1" r="0.41" fill="#305fb0"/><circle cx="26.9" cy="25.6" r="0.45" fill="#1f4c94"/><circle cx="24.2" cy="34.2" r="0.42" fill="#305fb0"/><circle cx="28.7" cy="35.6" r="0.31" fill="#14366e"/><circle cx="3.1" cy="2.5" r="0.38" fill="#1f4c94"/><circle cx="41.0" cy="2.8" r="0.44" fill="#14366e"/><circle cx="1.8" cy="34.6" r="0.48" fill="#1f4c94"/><circle cx="32.5" cy="33.9" r="0.39" fill="#14366e"/><circle cx="19.4" cy="2.9" r="0.51" fill="#2a5aa8"/><circle cx="35.4" cy="21.2" r="0.46" fill="#183f80"/><circle cx="15.5" cy="0.5" r="0.32" fill="#2a5aa8"/><circle cx="26.2" cy="36.8" r="0.52" fill="#14366e"/><circle cx="13.5" cy="34.6" r="0.47" fill="#183f80"/><circle cx="18.1" cy="31.0" r="0.32" fill="#3a70c0"/><circle cx="1.2" cy="22.2" r="0.42" fill="#1f4c94"/><circle cx="39.3" cy="4.2" r="0.49" fill="#14366e"/><circle cx="37.7" cy="9.5" r="0.30" fill="#305fb0"/><circle cx="5.9" cy="22.6" r="0.43" fill="#305fb0"/><circle cx="27.1" cy="16.4" r="0.52" fill="#305fb0"/><circle cx="16.6" cy="9.3" r="0.46" fill="#1f4c94"/><circle cx="36.1" cy="14.2" r="0.45" fill="#305fb0"/><circle cx="8.6" cy="5.0" r="0.39" fill="#2a5aa8"/><circle cx="29.2" cy="35.2" r="0.37" fill="#1f4c94"/><circle cx="4.6" cy="17.4" r="0.53" fill="#183f80"/><circle cx="15.7" cy="19.2" r="0.47" fill="#14366e"/><circle cx="34.4" cy="36.3" r="0.41" fill="#2a5aa8"/><circle cx="34.0" cy="10.3" r="0.45" fill="#14366e"/><circle cx="29.1" cy="21.1" r="0.38" fill="#3a70c0"/><circle cx="0.8" cy="5.0" r="0.41" fill="#2a5aa8"/><circle cx="31.5" cy="9.9" r="0.49" fill="#2a5aa8"/><circle cx="40.3" cy="4.3" r="0.33" fill="#3a70c0"/><circle cx="26.9" cy="29.9" r="0.54" fill="#14366e"/><circle cx="8.1" cy="30.5" r="0.36" fill="#14366e"/><circle cx="0.4" cy="17.5" r="0.48" fill="#1f4c94"/><circle cx="9.3" cy="28.8" r="0.43" fill="#3a70c0"/><circle cx="20.5" cy="36.9" r="0.34" fill="#14366e"/><circle cx="37.2" cy="3.2" r="0.53" fill="#14366e"/><circle cx="15.9" cy="16.7" r="0.35" fill="#2a5aa8"/><circle cx="15.4" cy="21.0" r="0.52" fill="#305fb0"/><circle cx="19.0" cy="24.1" r="0.35" fill="#14366e"/><circle cx="35.5" cy="29.5" r="0.53" fill="#2a5aa8"/><circle cx="8.7" cy="33.3" r="0.55" fill="#305fb0"/><circle cx="22.0" cy="29.3" r="0.38" fill="#14366e"/><circle cx="35.1" cy="12.9" r="0.32" fill="#183f80"/><circle cx="14.0" cy="15.6" r="0.37" fill="#2a5aa8"/><circle cx="9.0" cy="32.1" r="0.41" fill="#2a5aa8"/><circle cx="7.1" cy="12.4" r="0.50" fill="#1f4c94"/><circle cx="19.3" cy="37.0" r="0.53" fill="#3a70c0"/><circle cx="34.4" cy="25.5" r="0.54" fill="#183f80"/><circle cx="23.7" cy="25.5" r="0.49" fill="#183f80"/><circle cx="21.6" cy="10.7" r="0.48" fill="#14366e"/><circle cx="6.7" cy="19.0" r="0.53" fill="#305fb0"/><circle cx="12.8" cy="14.1" r="0.51" fill="#3a70c0"/><circle cx="8.5" cy="31.5" r="0.54" fill="#3a70c0"/><circle cx="11.2" cy="18.4" r="0.40" fill="#2a5aa8"/><circle cx="20.6" cy="22.4" r="0.31" fill="#2a5aa8"/><circle cx="21.2" cy="14.8" r="0.50" fill="#3a70c0"/><circle cx="5.0" cy="3.4" r="0.34" fill="#3a70c0"/><circle cx="18.8" cy="34.1" r="0.50" fill="#183f80"/><circle cx="11.0" cy="17.5" r="0.33" fill="#183f80"/><circle cx="36.9" cy="34.6" r="0.53" fill="#3a70c0"/><circle cx="13.0" cy="7.1" r="0.45" fill="#305fb0"/><circle cx="5.3" cy="28.8" r="0.31" fill="#1f4c94"/><circle cx="6.4" cy="0.4" r="0.37" fill="#14366e"/><circle cx="14.6" cy="22.9" r="0.33" fill="#14366e"/><circle cx="23.9" cy="31.5" r="0.46" fill="#14366e"/><circle cx="8.1" cy="19.6" r="0.41" fill="#183f80"/><circle cx="26.0" cy="30.5" r="0.45" fill="#3a70c0"/><circle cx="8.4" cy="23.4" r="0.46" fill="#3a70c0"/><circle cx="8.9" cy="20.1" r="0.45" fill="#1f4c94"/><circle cx="9.5" cy="27.4" r="0.50" fill="#1f4c94"/><circle cx="13.0" cy="11.7" r="0.53" fill="#1f4c94"/><circle cx="31.9" cy="7.2" r="0.32" fill="#1f4c94"/><circle cx="5.4" cy="3.3" r="0.40" fill="#183f80"/><circle cx="34.1" cy="15.6" r="0.50" fill="#1f4c94"/><circle cx="8.2" cy="23.2" r="0.50" fill="#2a5aa8"/><circle cx="8.2" cy="25.2" r="0.53" fill="#305fb0"/><circle cx="4.7" cy="18.7" r="0.49" fill="#3a70c0"/><circle cx="40.9" cy="30.8" r="0.50" fill="#183f80"/><circle cx="4.4" cy="1.4" r="0.44" fill="#3a70c0"/><circle cx="37.1" cy="17.8" r="0.35" fill="#2a5aa8"/><circle cx="8.4" cy="31.1" r="0.55" fill="#14366e"/><circle cx="3.9" cy="2.3" r="0.54" fill="#183f80"/><circle cx="3.2" cy="3.6" r="0.40" fill="#183f80"/><circle cx="21.1" cy="15.9" r="0.45" fill="#2a5aa8"/><circle cx="26.0" cy="1.5" r="0.35" fill="#183f80"/><circle cx="18.6" cy="27.4" r="0.40" fill="#1f4c94"/><circle cx="24.8" cy="3.5" r="0.50" fill="#305fb0"/><circle cx="36.6" cy="29.7" r="0.48" fill="#14366e"/><circle cx="38.5" cy="21.1" r="0.35" fill="#3a70c0"/><circle cx="40.3" cy="29.8" r="0.36" fill="#2a5aa8"/><circle cx="30.5" cy="28.8" r="0.50" fill="#183f80"/><circle cx="5.5" cy="12.2" r="0.43" fill="#305fb0"/><circle cx="31.5" cy="28.3" r="0.40" fill="#14366e"/><circle cx="7.6" cy="29.5" r="0.38" fill="#2a5aa8"/><circle cx="0.4" cy="13.2" r="0.46" fill="#3a70c0"/><circle cx="2.0" cy="10.1" r="0.54" fill="#305fb0"/><circle cx="13.9" cy="24.4" r="0.44" fill="#3a70c0"/><circle cx="3.2" cy="19.0" r="0.42" fill="#1f4c94"/><circle cx="28.8" cy="28.2" r="0.55" fill="#2a5aa8"/><circle cx="4.7" cy="4.0" r="0.36" fill="#183f80"/><circle cx="16.5" cy="1.9" r="0.35" fill="#183f80"/><circle cx="0.4" cy="9.6" r="0.37" fill="#305fb0"/><circle cx="22.6" cy="18.8" r="0.54" fill="#3a70c0"/><circle cx="34.7" cy="3.7" r="0.41" fill="#14366e"/><circle cx="3.1" cy="22.1" r="0.49" fill="#2a5aa8"/><circle cx="15.8" cy="34.7" r="0.40" fill="#1f4c94"/><circle cx="35.1" cy="20.1" r="0.45" fill="#183f80"/><circle cx="38.8" cy="15.6" r="0.43" fill="#3a70c0"/><circle cx="12.8" cy="19.6" r="0.42" fill="#305fb0"/><circle cx="23.0" cy="10.5" r="0.48" fill="#305fb0"/><circle cx="1.1" cy="28.6" r="0.45" fill="#14366e"/><circle cx="6.4" cy="27.9" r="0.40" fill="#305fb0"/><circle cx="30.7" cy="1.9" r="0.55" fill="#305fb0"/><circle cx="3.0" cy="33.5" r="0.41" fill="#183f80"/><circle cx="10.3" cy="28.0" r="0.31" fill="#2a5aa8"/><circle cx="38.4" cy="26.7" r="0.42" fill="#1f4c94"/><circle cx="24.7" cy="4.3" r="0.46" fill="#183f80"/><circle cx="4.8" cy="31.9" r="0.39" fill="#1f4c94"/><circle cx="5.1" cy="16.4" r="0.47" fill="#183f80"/><circle cx="24.6" cy="23.7" r="0.47" fill="#305fb0"/><circle cx="31.9" cy="19.6" r="0.55" fill="#305fb0"/><circle cx="30.1" cy="8.8" r="0.33" fill="#305fb0"/><circle cx="32.2" cy="23.1" r="0.39" fill="#305fb0"/><circle cx="25.0" cy="26.8" r="0.47" fill="#1f4c94"/><circle cx="26.0" cy="27.9" r="0.35" fill="#1f4c94"/><circle cx="20.6" cy="24.2" r="0.35" fill="#14366e"/><circle cx="1.6" cy="2.2" r="0.37" fill="#183f80"/><circle cx="1.1" cy="1.4" r="0.36" fill="#305fb0"/><circle cx="3.0" cy="3.2" r="0.47" fill="#3a70c0"/><circle cx="9.6" cy="36.3" r="0.42" fill="#305fb0"/><circle cx="8.6" cy="12.7" r="0.49" fill="#2a5aa8"/><circle cx="32.9" cy="16.6" r="0.51" fill="#1f4c94"/><circle cx="18.2" cy="27.7" r="0.40" fill="#1f4c94"/><circle cx="15.1" cy="24.2" r="0.55" fill="#305fb0"/><circle cx="11.9" cy="28.1" r="0.51" fill="#1f4c94"/><circle cx="17.5" cy="13.7" r="0.32" fill="#305fb0"/><circle cx="3.2" cy="3.1" r="0.44" fill="#183f80"/><circle cx="33.4" cy="17.1" r="0.51" fill="#2a5aa8"/><circle cx="3.1" cy="7.9" r="0.47" fill="#2a5aa8"/><circle cx="28.5" cy="18.3" r="0.49" fill="#305fb0"/><circle cx="11.6" cy="5.3" r="0.39" fill="#14366e"/><circle cx="13.4" cy="33.5" r="0.38" fill="#183f80"/><circle cx="23.3" cy="34.0" r="0.53" fill="#305fb0"/><circle cx="18.0" cy="29.7" r="0.38" fill="#305fb0"/><circle cx="9.1" cy="35.8" r="0.48" fill="#3a70c0"/><circle cx="10.2" cy="13.4" r="0.39" fill="#305fb0"/><circle cx="27.8" cy="21.6" r="0.50" fill="#14366e"/><circle cx="23.1" cy="29.5" r="0.44" fill="#3a70c0"/><circle cx="23.1" cy="6.5" r="0.49" fill="#305fb0"/><circle cx="33.3" cy="8.2" r="0.31" fill="#1f4c94"/><circle cx="23.3" cy="35.8" r="0.46" fill="#183f80"/><circle cx="2.6" cy="20.2" r="0.50" fill="#2a5aa8"/><circle cx="13.7" cy="10.1" r="0.33" fill="#305fb0"/><circle cx="3.5" cy="23.5" r="0.34" fill="#14366e"/><circle cx="33.5" cy="15.6" r="0.48" fill="#183f80"/><circle cx="31.4" cy="19.3" r="0.49" fill="#183f80"/><circle cx="14.4" cy="29.9" r="0.38" fill="#1f4c94"/><circle cx="20.2" cy="19.9" r="0.48" fill="#14366e"/><circle cx="25.3" cy="1.7" r="0.49" fill="#14366e"/><circle cx="14.3" cy="0.1" r="0.39" fill="#2a5aa8"/><circle cx="36.4" cy="35.4" r="0.46" fill="#3a70c0"/><circle cx="14.8" cy="0.4" r="0.33" fill="#183f80"/><circle cx="37.5" cy="9.1" r="0.34" fill="#14366e"/><circle cx="15.4" cy="6.2" r="0.35" fill="#183f80"/><circle cx="21.7" cy="10.1" r="0.52" fill="#183f80"/><circle cx="12.6" cy="4.2" r="0.46" fill="#1f4c94"/><circle cx="37.4" cy="27.9" r="0.30" fill="#183f80"/><circle cx="37.3" cy="1.3" r="0.33" fill="#1f4c94"/><circle cx="14.7" cy="21.8" r="0.45" fill="#183f80"/><circle cx="24.4" cy="8.3" r="0.35" fill="#305fb0"/><circle cx="16.5" cy="33.7" r="0.53" fill="#14366e"/><circle cx="22.5" cy="30.2" r="0.42" fill="#305fb0"/><circle cx="19.9" cy="14.9" r="0.54" fill="#14366e"/><circle cx="22.4" cy="35.4" r="0.42" fill="#1f4c94"/><circle cx="16.4" cy="8.0" r="0.33" fill="#183f80"/><circle cx="40.0" cy="29.4" r="0.49" fill="#2a5aa8"/><circle cx="27.0" cy="8.8" r="0.30" fill="#183f80"/><circle cx="37.1" cy="16.7" r="0.36" fill="#183f80"/><circle cx="24.8" cy="5.8" r="0.34" fill="#305fb0"/><circle cx="5.9" cy="33.6" r="0.50" fill="#1f4c94"/><circle cx="26.1" cy="36.7" r="0.37" fill="#3a70c0"/><circle cx="2.2" cy="21.2" r="0.34" fill="#1f4c94"/><circle cx="33.7" cy="31.3" r="0.51" fill="#2a5aa8"/><circle cx="14.4" cy="22.7" r="0.43" fill="#183f80"/><circle cx="28.4" cy="3.1" r="0.49" fill="#3a70c0"/><circle cx="35.2" cy="11.2" r="0.50" fill="#183f80"/><circle cx="7.9" cy="25.2" r="0.50" fill="#183f80"/><circle cx="8.5" cy="20.1" r="0.43" fill="#1f4c94"/><circle cx="38.8" cy="35.7" r="0.38" fill="#183f80"/><circle cx="3.1" cy="11.3" r="0.42" fill="#14366e"/><circle cx="2.7" cy="2.8" r="0.34" fill="#14366e"/><circle cx="16.2" cy="17.1" r="0.54" fill="#2a5aa8"/><circle cx="26.8" cy="0.5" r="0.39" fill="#14366e"/><circle cx="19.5" cy="10.9" r="0.33" fill="#2a5aa8"/><circle cx="35.1" cy="31.2" r="0.48" fill="#3a70c0"/><circle cx="6.2" cy="23.2" r="0.53" fill="#14366e"/><circle cx="12.2" cy="12.5" r="0.40" fill="#14366e"/><circle cx="3.6" cy="7.0" r="0.39" fill="#2a5aa8"/><circle cx="13.5" cy="35.0" r="0.44" fill="#14366e"/><circle cx="26.3" cy="16.5" r="0.40" fill="#2a5aa8"/><circle cx="5.8" cy="3.5" r="0.47" fill="#14366e"/><circle cx="7.3" cy="7.1" r="0.31" fill="#183f80"/><circle cx="24.3" cy="3.3" r="0.36" fill="#1f4c94"/><circle cx="40.5" cy="16.1" r="0.49" fill="#305fb0"/><circle cx="37.7" cy="15.8" r="0.43" fill="#14366e"/><circle cx="8.4" cy="5.5" r="0.47" fill="#183f80"/><circle cx="13.6" cy="15.2" r="0.30" fill="#183f80"/><circle cx="25.1" cy="11.8" r="0.50" fill="#1f4c94"/><circle cx="27.1" cy="22.5" r="0.30" fill="#305fb0"/><circle cx="7.7" cy="11.4" r="0.41" fill="#3a70c0"/><circle cx="15.5" cy="18.8" r="0.50" fill="#2a5aa8"/><circle cx="25.1" cy="5.9" r="0.49" fill="#305fb0"/><circle cx="22.5" cy="13.0" r="0.43" fill="#1f4c94"/><circle cx="23.5" cy="7.3" r="0.53" fill="#14366e"/><circle cx="29.0" cy="34.6" r="0.44" fill="#2a5aa8"/><circle cx="25.7" cy="7.3" r="0.32" fill="#1f4c94"/><circle cx="19.6" cy="15.4" r="0.38" fill="#2a5aa8"/><circle cx="38.1" cy="13.4" r="0.42" fill="#2a5aa8"/><circle cx="18.5" cy="27.0" r="0.36" fill="#3a70c0"/><circle cx="22.3" cy="20.7" r="0.44" fill="#305fb0"/><circle cx="6.9" cy="27.6" r="0.52" fill="#305fb0"/><circle cx="24.7" cy="4.5" r="0.51" fill="#305fb0"/><circle cx="28.1" cy="13.5" r="0.49" fill="#305fb0"/><circle cx="34.1" cy="6.9" r="0.44" fill="#2a5aa8"/><circle cx="18.6" cy="14.9" r="0.50" fill="#14366e"/><circle cx="5.7" cy="28.0" r="0.51" fill="#183f80"/><circle cx="25.2" cy="23.7" r="0.49" fill="#1f4c94"/><circle cx="8.2" cy="17.3" r="0.34" fill="#183f80"/><circle cx="4.8" cy="15.0" r="0.38" fill="#1f4c94"/><circle cx="10.8" cy="21.0" r="0.38" fill="#14366e"/><circle cx="32.1" cy="26.7" r="0.50" fill="#183f80"/><circle cx="39.3" cy="22.2" r="0.42" fill="#183f80"/><circle cx="36.8" cy="33.8" r="0.44" fill="#183f80"/><circle cx="30.8" cy="18.0" r="0.55" fill="#14366e"/><circle cx="16.8" cy="16.1" r="0.44" fill="#3a70c0"/><circle cx="13.5" cy="19.3" r="0.41" fill="#2a5aa8"/><circle cx="13.1" cy="2.0" r="0.48" fill="#183f80"/><circle cx="30.0" cy="22.1" r="0.49" fill="#305fb0"/><circle cx="36.2" cy="32.5" r="0.36" fill="#183f80"/><circle cx="9.9" cy="32.3" r="0.54" fill="#183f80"/><circle cx="28.5" cy="19.5" r="0.36" fill="#305fb0"/><circle cx="26.9" cy="34.8" r="0.52" fill="#14366e"/><circle cx="39.6" cy="24.6" r="0.52" fill="#183f80"/><circle cx="23.1" cy="6.1" r="0.46" fill="#183f80"/><circle cx="23.2" cy="33.4" r="0.32" fill="#1f4c94"/><circle cx="5.1" cy="19.9" r="0.54" fill="#2a5aa8"/><circle cx="12.1" cy="26.9" r="0.31" fill="#1f4c94"/><circle cx="2.6" cy="33.1" r="0.50" fill="#183f80"/><circle cx="5.8" cy="25.6" r="0.36" fill="#305fb0"/><circle cx="1.3" cy="33.2" r="0.38" fill="#183f80"/><circle cx="5.9" cy="28.7" r="0.49" fill="#1f4c94"/><circle cx="8.3" cy="31.8" r="0.47" fill="#2a5aa8"/><circle cx="8.0" cy="31.0" r="0.39" fill="#183f80"/><circle cx="0.7" cy="23.5" r="0.47" fill="#3a70c0"/><circle cx="8.3" cy="23.4" r="0.35" fill="#2a5aa8"/><circle cx="26.7" cy="11.3" r="0.50" fill="#305fb0"/><circle cx="35.7" cy="26.4" r="0.33" fill="#14366e"/><circle cx="39.2" cy="28.8" r="0.40" fill="#1f4c94"/><circle cx="9.2" cy="11.4" r="0.48" fill="#1f4c94"/><circle cx="11.0" cy="26.6" r="0.43" fill="#305fb0"/><circle cx="32.4" cy="13.8" r="0.47" fill="#2a5aa8"/><circle cx="24.2" cy="8.5" r="0.38" fill="#1f4c94"/><circle cx="27.3" cy="10.2" r="0.46" fill="#2a5aa8"/><circle cx="19.0" cy="2.8" r="0.53" fill="#2a5aa8"/><circle cx="21.8" cy="1.7" r="0.45" fill="#305fb0"/><circle cx="22.0" cy="15.7" r="0.44" fill="#1f4c94"/><circle cx="11.7" cy="28.0" r="0.36" fill="#305fb0"/><circle cx="30.1" cy="1.1" r="0.50" fill="#1f4c94"/><circle cx="40.5" cy="1.2" r="0.42" fill="#3a70c0"/><circle cx="15.8" cy="34.4" r="0.42" fill="#1f4c94"/><circle cx="2.6" cy="28.7" r="0.53" fill="#305fb0"/><circle cx="27.0" cy="29.0" r="0.43" fill="#3a70c0"/><circle cx="33.9" cy="23.5" r="0.55" fill="#14366e"/><circle cx="39.0" cy="6.4" r="0.49" fill="#1f4c94"/><circle cx="4.6" cy="16.1" r="0.47" fill="#3a70c0"/><circle cx="31.7" cy="29.1" r="0.50" fill="#1f4c94"/><circle cx="10.6" cy="20.1" r="0.51" fill="#3a70c0"/><circle cx="20.5" cy="1.3" r="0.45" fill="#14366e"/></pattern><pattern id="greendots" width="29" height="31" patternUnits="userSpaceOnUse"><circle cx="1.5" cy="13.9" r="0.66" fill="#36a830"/><circle cx="4.4" cy="0.6" r="0.52" fill="#66dd50"/><circle cx="14.6" cy="22.4" r="0.65" fill="#48c83c"/><circle cx="2.1" cy="28.1" r="0.55" fill="#5ad848"/><circle cx="18.1" cy="1.7" r="0.50" fill="#36a830"/><circle cx="23.8" cy="22.9" r="0.62" fill="#66dd50"/><circle cx="2.6" cy="25.4" r="0.41" fill="#36a830"/><circle cx="7.2" cy="15.4" r="0.58" fill="#66dd50"/><circle cx="1.8" cy="12.7" r="0.48" fill="#5ad848"/><circle cx="20.4" cy="29.7" r="0.39" fill="#5ad848"/><circle cx="4.2" cy="14.1" r="0.61" fill="#48c83c"/><circle cx="0.1" cy="12.7" r="0.53" fill="#48c83c"/><circle cx="11.4" cy="9.2" r="0.50" fill="#48c83c"/><circle cx="28.2" cy="21.1" r="0.60" fill="#5ad848"/><circle cx="8.6" cy="3.7" r="0.65" fill="#66dd50"/><circle cx="13.4" cy="28.9" r="0.48" fill="#36a830"/><circle cx="27.4" cy="28.6" r="0.43" fill="#5ad848"/><circle cx="11.7" cy="20.1" r="0.37" fill="#36a830"/><circle cx="16.5" cy="28.3" r="0.66" fill="#5ad848"/><circle cx="13.4" cy="12.2" r="0.65" fill="#66dd50"/><circle cx="11.0" cy="1.5" r="0.50" fill="#5ad848"/><circle cx="5.3" cy="17.0" r="0.41" fill="#5ad848"/><circle cx="11.6" cy="18.4" r="0.62" fill="#66dd50"/><circle cx="13.0" cy="30.8" r="0.59" fill="#66dd50"/><circle cx="5.9" cy="11.9" r="0.38" fill="#36a830"/><circle cx="10.5" cy="8.5" r="0.36" fill="#5ad848"/><circle cx="21.5" cy="15.9" r="0.55" fill="#5ad848"/><circle cx="7.8" cy="11.2" r="0.40" fill="#36a830"/><circle cx="4.0" cy="7.5" r="0.64" fill="#48c83c"/><circle cx="0.6" cy="10.0" r="0.48" fill="#48c83c"/><circle cx="24.8" cy="11.8" r="0.44" fill="#48c83c"/><circle cx="8.8" cy="18.8" r="0.52" fill="#5ad848"/><circle cx="4.4" cy="18.5" r="0.36" fill="#36a830"/><circle cx="11.9" cy="14.8" r="0.59" fill="#36a830"/><circle cx="9.1" cy="14.0" r="0.48" fill="#5ad848"/><circle cx="24.2" cy="16.6" r="0.51" fill="#5ad848"/><circle cx="11.2" cy="26.8" r="0.43" fill="#36a830"/><circle cx="10.7" cy="19.0" r="0.40" fill="#48c83c"/><circle cx="21.7" cy="15.0" r="0.35" fill="#36a830"/><circle cx="19.2" cy="2.1" r="0.65" fill="#36a830"/><circle cx="19.3" cy="29.6" r="0.65" fill="#5ad848"/><circle cx="22.7" cy="8.0" r="0.63" fill="#48c83c"/><circle cx="11.4" cy="1.9" r="0.48" fill="#36a830"/><circle cx="8.3" cy="21.8" r="0.43" fill="#66dd50"/><circle cx="5.9" cy="23.8" r="0.47" fill="#5ad848"/><circle cx="15.1" cy="23.0" r="0.67" fill="#5ad848"/><circle cx="13.9" cy="8.0" r="0.65" fill="#36a830"/><circle cx="20.3" cy="0.7" r="0.49" fill="#36a830"/><circle cx="26.4" cy="28.3" r="0.45" fill="#66dd50"/><circle cx="14.4" cy="18.2" r="0.51" fill="#36a830"/><circle cx="25.7" cy="2.2" r="0.36" fill="#36a830"/><circle cx="25.9" cy="17.5" r="0.44" fill="#5ad848"/><circle cx="18.6" cy="11.9" r="0.47" fill="#36a830"/><circle cx="0.9" cy="21.9" r="0.43" fill="#48c83c"/><circle cx="18.2" cy="19.2" r="0.49" fill="#66dd50"/><circle cx="1.8" cy="2.1" r="0.51" fill="#66dd50"/><circle cx="11.1" cy="28.2" r="0.36" fill="#5ad848"/><circle cx="19.8" cy="8.5" r="0.52" fill="#66dd50"/><circle cx="28.3" cy="4.6" r="0.42" fill="#5ad848"/><circle cx="7.5" cy="6.8" r="0.53" fill="#66dd50"/><circle cx="0.1" cy="17.0" r="0.65" fill="#48c83c"/><circle cx="18.1" cy="17.4" r="0.64" fill="#36a830"/><circle cx="7.7" cy="3.2" r="0.36" fill="#5ad848"/><circle cx="20.2" cy="21.3" r="0.69" fill="#5ad848"/><circle cx="4.6" cy="19.3" r="0.52" fill="#36a830"/><circle cx="10.7" cy="8.9" r="0.61" fill="#66dd50"/><circle cx="6.9" cy="7.7" r="0.46" fill="#5ad848"/><circle cx="26.6" cy="22.9" r="0.66" fill="#48c83c"/><circle cx="23.7" cy="27.5" r="0.46" fill="#66dd50"/><circle cx="14.9" cy="21.1" r="0.36" fill="#66dd50"/><circle cx="25.2" cy="1.7" r="0.44" fill="#66dd50"/><circle cx="7.3" cy="19.7" r="0.48" fill="#36a830"/><circle cx="5.3" cy="26.5" r="0.42" fill="#5ad848"/><circle cx="16.5" cy="13.0" r="0.60" fill="#36a830"/><circle cx="23.2" cy="3.9" r="0.48" fill="#36a830"/><circle cx="6.7" cy="5.7" r="0.35" fill="#5ad848"/><circle cx="7.8" cy="8.4" r="0.44" fill="#66dd50"/><circle cx="11.2" cy="21.1" r="0.40" fill="#5ad848"/><circle cx="20.7" cy="3.7" r="0.36" fill="#36a830"/><circle cx="10.3" cy="16.7" r="0.63" fill="#66dd50"/><circle cx="9.6" cy="0.8" r="0.54" fill="#66dd50"/><circle cx="5.0" cy="2.1" r="0.50" fill="#36a830"/><circle cx="6.5" cy="22.4" r="0.49" fill="#5ad848"/><circle cx="28.4" cy="12.1" r="0.59" fill="#36a830"/><circle cx="23.2" cy="4.6" r="0.41" fill="#48c83c"/><circle cx="16.1" cy="27.8" r="0.66" fill="#66dd50"/><circle cx="3.5" cy="10.0" r="0.36" fill="#5ad848"/><circle cx="7.9" cy="12.4" r="0.46" fill="#48c83c"/><circle cx="14.0" cy="11.3" r="0.44" fill="#48c83c"/><circle cx="4.4" cy="0.2" r="0.62" fill="#48c83c"/></pattern><filter id="mblur" x="-10%" y="-10%" width="120%" height="120%"><feGaussianBlur stdDeviation="0.8"/></filter><filter id="gblur" x="-30%" y="-30%" width="160%" height="160%"><feGaussianBlur stdDeviation="5"/></filter><clipPath id="t1"><path id="t1p" d="M260.3,152.3 C264,149 266,148.2 268.4,148.2 C278,149 288.9,150.2 288.9,150.2 L309.3,151.2 L323.6,152.3 L329.7,149.2 L340,147.2 L354.3,148.2 C362,150 368.6,154.3 368.6,154.3 L374.7,162.5 L378.8,170.7 L381.9,178.8 L378.8,187 L376.8,193.1 L378.8,199.3 L372.7,205.4 L362.5,207.4 L346.1,206.4 L329.7,207.4 L315.4,207.4 L305.2,205.4 L295,204.4 L284.8,207.4 L272.5,210.5 L264.4,211.5 L260.3,205.4 L258.2,197.2 L256.2,185 L258.2,172.7 L260.3,162.5 Z"/></clipPath><clipPath id="t2"><path id="t2p" d="M266.4,239.4 L272.5,235.3 L288.9,233.3 L309.3,232.3 L329.7,232.3 L344.1,235.3 L356.3,240.4 L368.6,245.5 L374.7,252.7 L372.7,260.9 L377.8,269 L376.8,277.2 L368.6,281.3 L350.2,282.3 L333.8,281.3 L315.4,280.3 L299.1,281.3 L284.8,285.4 L272.5,287.4 L270.5,281.3 L274.6,271.1 L268.4,260.9 L263.3,250.7 L263.3,244.5 Z"/></clipPath></defs>
<use href="#t1p" fill="none" stroke="#2a62b0" stroke-width="1.6" opacity="0.9"/>
<use href="#t1p" fill="url(#bluedots)"/>
<use href="#t2p" fill="none" stroke="#2a62b0" stroke-width="1.6" opacity="0.9"/>
<use href="#t2p" fill="url(#bluedots)"/>
<g clip-path="url(#t1)"><g opacity="0.9"><rect x="330" y="145" width="55" height="65" fill="url(#greendots)"/></g><ellipse cx="357" cy="166" rx="14" ry="13" fill="#3fa838" opacity="0.35" filter="url(#gblur)"/><rect x="300" y="160" width="30" height="50" fill="url(#greendots)" opacity="0.4"/></g>
<g clip-path="url(#t2)"><rect x="330" y="232" width="50" height="55" fill="url(#greendots)" opacity="0.8"/><ellipse cx="342" cy="250" rx="12" ry="14" fill="#55c040" opacity="0.55" filter="url(#gblur)"/><rect x="330" y="236" width="22" height="32" fill="url(#greendots)"/></g>
<path d="M323.5,150 L323.5,207" stroke="#d03040" stroke-width="0.9" stroke-dasharray="3,2.5"/>
<path d="M335.3,234 L335.3,282" stroke="#d03040" stroke-width="0.9" stroke-dasharray="3,2.5"/>
<line x1="253.00" y1="215.50" x2="267.70" y2="215.50" stroke="#cccccc" stroke-width="0.9" />
<line x1="252.80" y1="293.30" x2="267.30" y2="293.30" stroke="#999999" stroke-width="0.9" />
<text x="251.20" y="152.60" font-size="11.6" fill="#ffffff" text-anchor="start" font-weight="normal" >WT 21dpa</text>
<text x="251.50" y="232.40" font-size="11.6" fill="#ffffff" text-anchor="start" font-weight="normal" >YAP-KO 21dpa</text>
<line x1="426.60" y1="153.20" x2="426.60" y2="275.50" stroke="#222" stroke-width="1" />
<line x1="426.10" y1="274.80" x2="509.20" y2="274.80" stroke="#222" stroke-width="1" />
<line x1="421.50" y1="275.00" x2="426.60" y2="275.00" stroke="#222" stroke-width="1" />
<text x="419.80" y="278.70" font-size="10.2" fill="#111" text-anchor="end" font-weight="bold" >8</text>
<line x1="421.50" y1="250.60" x2="426.60" y2="250.60" stroke="#222" stroke-width="1" />
<text x="419.80" y="254.30" font-size="10.2" fill="#111" text-anchor="end" font-weight="bold" >10</text>
<line x1="421.50" y1="226.20" x2="426.60" y2="226.20" stroke="#222" stroke-width="1" />
<text x="419.80" y="229.90" font-size="10.2" fill="#111" text-anchor="end" font-weight="bold" >12</text>
<line x1="421.50" y1="201.80" x2="426.60" y2="201.80" stroke="#222" stroke-width="1" />
<text x="419.80" y="205.50" font-size="10.2" fill="#111" text-anchor="end" font-weight="bold" >14</text>
<line x1="421.50" y1="177.40" x2="426.60" y2="177.40" stroke="#222" stroke-width="1" />
<text x="419.80" y="181.10" font-size="10.2" fill="#111" text-anchor="end" font-weight="bold" >16</text>
<line x1="421.50" y1="153.00" x2="426.60" y2="153.00" stroke="#222" stroke-width="1" />
<text x="419.80" y="156.70" font-size="10.2" fill="#111" text-anchor="end" font-weight="bold" >18</text>
<text x="0.00" y="0.00" font-size="11.6" fill="#111" text-anchor="middle" font-weight="bold" transform="translate(402.0,207.2) rotate(-90)">Proliferation ratio (%)</text>
<rect x="439.9" y="217.6" width="20.7" height="57.2" fill="none" stroke="#222" stroke-width="1"/>
<rect x="474.7" y="212.5" width="20.8" height="62.3" fill="none" stroke="#222" stroke-width="1"/>
<line x1="449.80" y1="274.80" x2="449.80" y2="279.70" stroke="#222" stroke-width="1" />
<line x1="484.90" y1="274.80" x2="484.90" y2="279.70" stroke="#222" stroke-width="1" />
<line x1="449.80" y1="198.40" x2="449.80" y2="235.30" stroke="#3dba3d" stroke-width="1" />
<line x1="443.80" y1="198.40" x2="455.90" y2="198.40" stroke="#3dba3d" stroke-width="1" />
<line x1="443.80" y1="235.30" x2="455.90" y2="235.30" stroke="#3dba3d" stroke-width="1" />
<line x1="484.90" y1="189.30" x2="484.90" y2="238.60" stroke="#e04850" stroke-width="1" />
<line x1="478.50" y1="189.30" x2="490.90" y2="189.30" stroke="#e04850" stroke-width="1" />
<line x1="478.50" y1="238.60" x2="490.90" y2="238.60" stroke="#e04850" stroke-width="1" />
<circle cx="449.8" cy="189" r="1.9" fill="#3dba3d"/>
<circle cx="449.8" cy="205.4" r="1.9" fill="#3dba3d"/>
<circle cx="449.8" cy="212.7" r="1.9" fill="#3dba3d"/>
<circle cx="449.8" cy="223.3" r="1.9" fill="#3dba3d"/>
<circle cx="449.8" cy="229.7" r="1.9" fill="#3dba3d"/>
<circle cx="449.8" cy="240.8" r="1.9" fill="#3dba3d"/>
<rect x="483.00" y="177.90" width="3.80" height="3.80" fill="#e04850" />
<rect x="483.00" y="200.60" width="3.80" height="3.80" fill="#e04850" />
<rect x="479.00" y="209.70" width="3.80" height="3.80" fill="#e04850" />
<rect x="486.80" y="206.20" width="3.80" height="3.80" fill="#e04850" />
<rect x="483.00" y="230.30" width="3.80" height="3.80" fill="#e04850" />
<rect x="483.00" y="247.70" width="3.80" height="3.80" fill="#e04850" />
<line x1="450.40" y1="169.20" x2="483.60" y2="169.20" stroke="#666" stroke-width="1" />
<text x="468.00" y="166.40" font-size="10.2" fill="#333" text-anchor="middle" font-weight="normal" >ns</text>
<text x="449.60" y="290.00" font-size="11.2" fill="#111" text-anchor="middle" font-weight="bold" >WT</text>
<text x="488.60" y="290.00" font-size="11.2" fill="#111" text-anchor="middle" font-weight="bold" >YAP-KO</text>
<text x="519.80" y="151.60" font-size="15" fill="#111" text-anchor="start" font-weight="normal" >e</text>
<line x1="561.30" y1="146.00" x2="561.30" y2="268.50" stroke="#333" stroke-width="1" />
<line x1="560.80" y1="268.00" x2="684.00" y2="268.00" stroke="#333" stroke-width="1" />
<line x1="555.90" y1="268.00" x2="561.30" y2="268.00" stroke="#333" stroke-width="1" />
<text x="554.60" y="271.80" font-size="10.6" fill="#111" text-anchor="end" font-weight="bold" >0</text>
<line x1="555.90" y1="243.55" x2="561.30" y2="243.55" stroke="#333" stroke-width="1" />
<text x="554.60" y="247.35" font-size="10.6" fill="#111" text-anchor="end" font-weight="bold" >1</text>
<line x1="555.90" y1="219.10" x2="561.30" y2="219.10" stroke="#333" stroke-width="1" />
<text x="554.60" y="222.90" font-size="10.6" fill="#111" text-anchor="end" font-weight="bold" >2</text>
<line x1="555.90" y1="194.65" x2="561.30" y2="194.65" stroke="#333" stroke-width="1" />
<text x="554.60" y="198.45" font-size="10.6" fill="#111" text-anchor="end" font-weight="bold" >3</text>
<line x1="555.90" y1="170.20" x2="561.30" y2="170.20" stroke="#333" stroke-width="1" />
<text x="554.60" y="174.00" font-size="10.6" fill="#111" text-anchor="end" font-weight="bold" >4</text>
<line x1="555.90" y1="145.75" x2="561.30" y2="145.75" stroke="#333" stroke-width="1" />
<text x="554.60" y="149.55" font-size="10.6" fill="#111" text-anchor="end" font-weight="bold" >5</text>
<text x="0.00" y="0.00" font-size="11.6" fill="#111" text-anchor="middle" font-weight="bold" transform="translate(544.0,215.0) rotate(-90)">relative Taz gene expression</text>
<path d="M568.10,268.00 L568.10,244.04 L579.90,244.04 L579.90,268.00" fill="none" stroke="#4169c4" stroke-width="1"/>
<line x1="574.00" y1="268.00" x2="574.00" y2="272.70" stroke="#333" stroke-width="1" />
<path d="M587.20,268.00 L587.20,186.83 L599.00,186.83 L599.00,268.00" fill="none" stroke="#4169c4" stroke-width="1"/>
<line x1="593.10" y1="268.00" x2="593.10" y2="272.70" stroke="#333" stroke-width="1" />
<path d="M606.60,268.00 L606.60,244.04 L618.40,244.04 L618.40,268.00" fill="none" stroke="#8ed85c" stroke-width="1"/>
<line x1="612.50" y1="268.00" x2="612.50" y2="272.70" stroke="#333" stroke-width="1" />
<path d="M626.20,268.00 L626.20,244.28 L638.00,244.28 L638.00,268.00" fill="none" stroke="#8ed85c" stroke-width="1"/>
<line x1="632.10" y1="268.00" x2="632.10" y2="272.70" stroke="#333" stroke-width="1" />
<path d="M645.10,268.00 L645.10,243.55 L656.90,243.55 L656.90,268.00" fill="none" stroke="#e8414c" stroke-width="1"/>
<line x1="651.00" y1="268.00" x2="651.00" y2="272.70" stroke="#333" stroke-width="1" />
<path d="M664.20,268.00 L664.20,243.55 L676.00,243.55 L676.00,268.00" fill="none" stroke="#e8414c" stroke-width="1"/>
<line x1="670.10" y1="268.00" x2="670.10" y2="272.70" stroke="#333" stroke-width="1" />
<line x1="593.60" y1="167.40" x2="593.60" y2="205.30" stroke="#4169c4" stroke-width="1" />
<line x1="590.00" y1="167.40" x2="597.00" y2="167.40" stroke="#4169c4" stroke-width="1" />
<line x1="590.00" y1="205.30" x2="597.00" y2="205.30" stroke="#4169c4" stroke-width="1" />
<rect x="591.30" y="152.80" width="4.60" height="4.60" fill="#4169c4" />
<rect x="591.30" y="165.30" width="4.60" height="4.60" fill="#4169c4" />
<rect x="587.30" y="192.30" width="4.60" height="4.60" fill="#4169c4" />
<rect x="591.70" y="193.10" width="4.60" height="4.60" fill="#4169c4" />
<rect x="595.20" y="197.20" width="4.60" height="4.60" fill="#4169c4" />
<rect x="587.30" y="201.50" width="4.60" height="4.60" fill="#4169c4" />
<circle cx="571" cy="246.5" r="2.6" fill="#4169c4"/>
<circle cx="573.7" cy="246.5" r="2.6" fill="#4169c4"/>
<circle cx="577.3" cy="246.5" r="2.6" fill="#4169c4"/>
<circle cx="578.2" cy="245.4" r="2.6" fill="#4169c4"/>
<circle cx="572.8" cy="238.7" r="2.6" fill="#4169c4"/>
<circle cx="575.5" cy="236.9" r="2.6" fill="#4169c4"/>
<line x1="612.60" y1="236.00" x2="612.60" y2="250.00" stroke="#8ed85c" stroke-width="1" />
<path d="M612.9,233.2 L615.6999999999999,238 L610.1,238 Z" fill="#8ed85c"/>
<path d="M610.2,237.7 L613.0,242.5 L607.4000000000001,242.5 Z" fill="#8ed85c"/>
<path d="M614.7,237.7 L617.5,242.5 L611.9000000000001,242.5 Z" fill="#8ed85c"/>
<path d="M608.4,244.1 L611.1999999999999,248.9 L605.6,248.9 Z" fill="#8ed85c"/>
<path d="M612,244.5 L614.8,249.3 L609.2,249.3 Z" fill="#8ed85c"/>
<path d="M616.6,244.1 L619.4,248.9 L613.8000000000001,248.9 Z" fill="#8ed85c"/>
<line x1="632.20" y1="237.00" x2="632.20" y2="250.00" stroke="#8ed85c" stroke-width="1" />
<polygon points="627.50,234.40 628.26,236.35 630.35,236.47 628.74,237.80 629.26,239.83 627.50,238.70 625.74,239.83 626.26,237.80 624.65,236.47 626.74,236.35" fill="#8ed85c"/>
<polygon points="634.80,234.40 635.56,236.35 637.65,236.47 636.04,237.80 636.56,239.83 634.80,238.70 633.04,239.83 633.56,237.80 631.95,236.47 634.04,236.35" fill="#8ed85c"/>
<polygon points="631.20,237.50 631.96,239.45 634.05,239.57 632.44,240.90 632.96,242.93 631.20,241.80 629.44,242.93 629.96,240.90 628.35,239.57 630.44,239.45" fill="#8ed85c"/>
<polygon points="630.30,245.70 631.06,247.65 633.15,247.77 631.54,249.10 632.06,251.13 630.30,250.00 628.54,251.13 629.06,249.10 627.45,247.77 629.54,247.65" fill="#8ed85c"/>
<polygon points="632.10,247.30 632.86,249.25 634.95,249.37 633.34,250.70 633.86,252.73 632.10,251.60 630.34,252.73 630.86,250.70 629.25,249.37 631.34,249.25" fill="#8ed85c"/>
<line x1="650.30" y1="236.00" x2="650.30" y2="249.00" stroke="#e8414c" stroke-width="1" />
<line x1="647.50" y1="238.00" x2="653.10" y2="238.00" stroke="#e8414c" stroke-width="1" />
<path d="M650.3,231.2 L653.1999999999999,234.1 L650.3,237.0 L647.4,234.1 Z" fill="#e8414c"/>
<path d="M647.6,237.6 L650.5,240.5 L647.6,243.4 L644.7,240.5 Z" fill="#e8414c"/>
<path d="M653.1,236.7 L656.0,239.6 L653.1,242.5 L650.2,239.6 Z" fill="#e8414c"/>
<path d="M650.3,240.29999999999998 L653.1999999999999,243.2 L650.3,246.1 L647.4,243.2 Z" fill="#e8414c"/>
<path d="M647.2,245.79999999999998 L650.1,248.7 L647.2,251.6 L644.3000000000001,248.7 Z" fill="#e8414c"/>
<path d="M653.1,244.9 L656.0,247.8 L653.1,250.70000000000002 L650.2,247.8 Z" fill="#e8414c"/>
<circle cx="669.5" cy="237.8" r="2.5" fill="#e8414c"/>
<circle cx="665.8" cy="241.4" r="2.5" fill="#e8414c"/>
<circle cx="674" cy="241.4" r="2.5" fill="#e8414c"/>
<circle cx="667.7" cy="243.2" r="2.5" fill="#e8414c"/>
<circle cx="672.2" cy="244.7" r="2.5" fill="#e8414c"/>
<circle cx="665.8" cy="247.8" r="2.5" fill="#e8414c"/>
<circle cx="674" cy="247.8" r="2.5" fill="#e8414c"/>
<line x1="573.80" y1="147.50" x2="593.00" y2="147.50" stroke="#333" stroke-width="1" />
<text x="584.00" y="151.30" font-size="15.7" fill="#333" text-anchor="middle" font-weight="normal" >**</text>
<line x1="612.90" y1="229.00" x2="631.20" y2="229.00" stroke="#333" stroke-width="1" />
<text x="622.30" y="226.40" font-size="10.2" fill="#333" text-anchor="middle" font-weight="normal" >ns</text>
<line x1="651.20" y1="227.80" x2="669.50" y2="227.80" stroke="#333" stroke-width="1" />
<text x="660.50" y="225.20" font-size="10.2" fill="#333" text-anchor="middle" font-weight="normal" >ns</text>
<text transform="translate(580.75,282.10) rotate(-43)" font-size="11.8" font-weight="bold" fill="#111" text-anchor="end">WT</text>
<text transform="translate(605.10,280.50) rotate(-43)" font-size="11.8" font-weight="bold" fill="#111" text-anchor="end">YAP-KO</text>
<text transform="translate(620.10,282.50) rotate(-43)" font-size="11.8" font-weight="bold" fill="#111" text-anchor="end">PBS</text>
<text transform="translate(643.70,279.50) rotate(-43)" font-size="11.8" font-weight="bold" fill="#111" text-anchor="end">Verteporfin</text>
<text transform="translate(660.90,280.30) rotate(-43)" font-size="11.8" font-weight="bold" fill="#111" text-anchor="end">MO-Con</text>
<text transform="translate(680.60,281.10) rotate(-43)" font-size="11.8" font-weight="bold" fill="#111" text-anchor="end">MO-Yap</text>
<text x="0.50" y="336.30" font-size="15" fill="#111" text-anchor="start" font-weight="normal" >f</text>
<line x1="28.80" y1="329.60" x2="28.80" y2="568.50" stroke="#6a6a6a" stroke-width="1" />
<line x1="28.80" y1="568.00" x2="321.10" y2="568.00" stroke="#6a6a6a" stroke-width="1" />
<path d="M319.1,565.0 L325.1,568.0 L319.1,571.0" fill="none" stroke="#6a6a6a" stroke-width="1"/>
<line x1="42.50" y1="564.50" x2="42.50" y2="568.00" stroke="#6a6a6a" stroke-width="1" />
<line x1="55.01" y1="564.50" x2="55.01" y2="568.00" stroke="#6a6a6a" stroke-width="1" />
<line x1="67.52" y1="564.50" x2="67.52" y2="568.00" stroke="#6a6a6a" stroke-width="1" />
<line x1="80.04" y1="564.50" x2="80.04" y2="568.00" stroke="#6a6a6a" stroke-width="1" />
<line x1="123.83" y1="564.50" x2="123.83" y2="568.00" stroke="#6a6a6a" stroke-width="1" />
<line x1="211.41" y1="564.50" x2="211.41" y2="568.00" stroke="#6a6a6a" stroke-width="1" />
<line x1="299.00" y1="564.50" x2="299.00" y2="568.00" stroke="#6a6a6a" stroke-width="1" />
<text x="42.50" y="580.90" font-size="11.3" fill="#444" text-anchor="middle" font-weight="normal" >1</text>
<text x="55.01" y="580.90" font-size="11.3" fill="#444" text-anchor="middle" font-weight="normal" >3</text>
<text x="67.52" y="580.90" font-size="11.3" fill="#444" text-anchor="middle" font-weight="normal" >5</text>
<text x="80.04" y="580.90" font-size="11.3" fill="#444" text-anchor="middle" font-weight="normal" >7</text>
<text x="123.83" y="580.90" font-size="11.3" fill="#444" text-anchor="middle" font-weight="normal" >14</text>
<text x="211.41" y="580.90" font-size="11.3" fill="#444" text-anchor="middle" font-weight="normal" >28</text>
<text x="298.20" y="580.90" font-size="11.3" fill="#444" text-anchor="middle" font-weight="normal" >42</text>
<text x="306.40" y="580.90" font-size="11.3" fill="#333" text-anchor="start" font-weight="normal" >(dpa)</text>
<text x="26.30" y="507.00" font-size="11.4" fill="#444" text-anchor="end" font-weight="normal" >1</text>
<text x="0.00" y="0.00" font-size="11.7" fill="#222" text-anchor="middle" font-weight="normal" transform="translate(15.1,468.9) rotate(-90)">YAP-KO / WT gene expression ratio</text>
<text x="58.80" y="330.80" font-size="14.1" fill="#111" text-anchor="start" font-weight="normal" >YAP / TAZ common target genes</text>
<line x1="51.80" y1="344.00" x2="60.80" y2="344.00" stroke="#f0787a" stroke-width="0.8" />
<circle cx="56.30" cy="344.00" r="0.8" fill="#f0787a"/>
<text x="65.80" y="347.20" font-size="8.9" fill="#333" text-anchor="start" font-weight="normal" >ACTR3</text>
<line x1="51.80" y1="360.37" x2="60.80" y2="360.37" stroke="#9aaa30" stroke-width="0.8" />
<circle cx="56.30" cy="360.37" r="0.8" fill="#9aaa30"/>
<text x="65.80" y="363.57" font-size="8.9" fill="#333" text-anchor="start" font-weight="normal" >DRG2</text>
<line x1="51.80" y1="376.74" x2="60.80" y2="376.74" stroke="#30c0a0" stroke-width="0.8" />
<circle cx="56.30" cy="376.74" r="0.8" fill="#30c0a0"/>
<text x="65.80" y="379.94" font-size="8.9" fill="#333" text-anchor="start" font-weight="normal" >PPA2</text>
<line x1="51.80" y1="393.11" x2="60.80" y2="393.11" stroke="#6090e0" stroke-width="0.8" />
<circle cx="56.30" cy="393.11" r="0.8" fill="#6090e0"/>
<text x="65.80" y="396.31" font-size="8.9" fill="#333" text-anchor="start" font-weight="normal" >SMAD4</text>
<line x1="51.80" y1="409.48" x2="60.80" y2="409.48" stroke="#a8a030" stroke-width="0.8" />
<circle cx="56.30" cy="409.48" r="0.8" fill="#a8a030"/>
<text x="65.80" y="412.68" font-size="8.9" fill="#333" text-anchor="start" font-weight="normal" >COPE</text>
<line x1="51.80" y1="425.85" x2="60.80" y2="425.85" stroke="#f070c0" stroke-width="0.8" />
<circle cx="56.30" cy="425.85" r="0.8" fill="#f070c0"/>
<text x="65.80" y="429.05" font-size="8.9" fill="#333" text-anchor="start" font-weight="normal" >UBE2V1</text>
<line x1="51.80" y1="442.22" x2="60.80" y2="442.22" stroke="#c050d0" stroke-width="0.8" />
<circle cx="56.30" cy="442.22" r="0.8" fill="#c050d0"/>
<text x="65.80" y="445.42" font-size="8.9" fill="#333" text-anchor="start" font-weight="normal" >TEAD3</text>
<line x1="51.80" y1="458.59" x2="60.80" y2="458.59" stroke="#d0a040" stroke-width="0.8" />
<circle cx="56.30" cy="458.59" r="0.8" fill="#d0a040"/>
<text x="65.80" y="461.79" font-size="8.9" fill="#333" text-anchor="start" font-weight="normal" >CLTA</text>
<line x1="137.60" y1="344.00" x2="146.60" y2="344.00" stroke="#f08a60" stroke-width="0.8" />
<circle cx="142.10" cy="344.00" r="0.8" fill="#f08a60"/>
<text x="151.60" y="347.20" font-size="8.9" fill="#333" text-anchor="start" font-weight="normal" >ARPC3</text>
<line x1="137.60" y1="360.37" x2="146.60" y2="360.37" stroke="#5cb840" stroke-width="0.8" />
<circle cx="142.10" cy="360.37" r="0.8" fill="#5cb840"/>
<text x="151.60" y="363.57" font-size="8.9" fill="#333" text-anchor="start" font-weight="normal" >EIF2S3</text>
<line x1="137.60" y1="376.74" x2="146.60" y2="376.74" stroke="#30bcb0" stroke-width="0.8" />
<circle cx="142.10" cy="376.74" r="0.8" fill="#30bcb0"/>
<text x="151.60" y="379.94" font-size="8.9" fill="#333" text-anchor="start" font-weight="normal" >RAB10</text>
<line x1="137.60" y1="393.11" x2="146.60" y2="393.11" stroke="#8a80e8" stroke-width="0.8" />
<circle cx="142.10" cy="393.11" r="0.8" fill="#8a80e8"/>
<text x="151.60" y="396.31" font-size="8.9" fill="#333" text-anchor="start" font-weight="normal" >SMARCC1</text>
<line x1="137.60" y1="409.48" x2="146.60" y2="409.48" stroke="#30c090" stroke-width="0.8" />
<circle cx="142.10" cy="409.48" r="0.8" fill="#30c090"/>
<text x="151.60" y="412.68" font-size="8.9" fill="#333" text-anchor="start" font-weight="normal" >MFF</text>
<line x1="137.60" y1="425.85" x2="146.60" y2="425.85" stroke="#f06090" stroke-width="0.8" />
<circle cx="142.10" cy="425.85" r="0.8" fill="#f06090"/>
<text x="151.60" y="429.05" font-size="8.9" fill="#333" text-anchor="start" font-weight="normal" >WASF2</text>
<line x1="137.60" y1="442.22" x2="146.60" y2="442.22" stroke="#40a8e8" stroke-width="0.8" />
<circle cx="142.10" cy="442.22" r="0.8" fill="#40a8e8"/>
<text x="151.60" y="445.42" font-size="8.9" fill="#333" text-anchor="start" font-weight="normal" >SKP1</text>
<line x1="223.40" y1="344.00" x2="232.40" y2="344.00" stroke="#d89a30" stroke-width="0.8" />
<circle cx="227.90" cy="344.00" r="0.8" fill="#d89a30"/>
<text x="237.50" y="347.20" font-size="8.9" fill="#333" text-anchor="start" font-weight="normal" >BABAM1</text>
<line x1="223.40" y1="360.37" x2="232.40" y2="360.37" stroke="#3cbc60" stroke-width="0.8" />
<circle cx="227.90" cy="360.37" r="0.8" fill="#3cbc60"/>
<text x="237.50" y="363.57" font-size="8.9" fill="#333" text-anchor="start" font-weight="normal" >KDM5C</text>
<line x1="223.40" y1="376.74" x2="232.40" y2="376.74" stroke="#30b8d0" stroke-width="0.8" />
<circle cx="227.90" cy="376.74" r="0.8" fill="#30b8d0"/>
<text x="237.50" y="379.94" font-size="8.9" fill="#333" text-anchor="start" font-weight="normal" >RAB11B</text>
<line x1="223.40" y1="393.11" x2="232.40" y2="393.11" stroke="#b070e0" stroke-width="0.8" />
<circle cx="227.90" cy="393.11" r="0.8" fill="#b070e0"/>
<text x="237.50" y="396.31" font-size="8.9" fill="#333" text-anchor="start" font-weight="normal" >TEAD2</text>
<line x1="223.40" y1="409.48" x2="232.40" y2="409.48" stroke="#30a8e0" stroke-width="0.8" />
<circle cx="227.90" cy="409.48" r="0.8" fill="#30a8e0"/>
<text x="237.50" y="412.68" font-size="8.9" fill="#333" text-anchor="start" font-weight="normal" >SMAD3</text>
<line x1="223.40" y1="425.85" x2="232.40" y2="425.85" stroke="#e070d0" stroke-width="0.8" />
<circle cx="227.90" cy="425.85" r="0.8" fill="#e070d0"/>
<text x="237.50" y="429.05" font-size="8.9" fill="#333" text-anchor="start" font-weight="normal" >TIA1</text>
<line x1="223.40" y1="442.22" x2="232.40" y2="442.22" stroke="#30b060" stroke-width="0.8" />
<circle cx="227.90" cy="442.22" r="0.8" fill="#30b060"/>
<text x="237.50" y="445.42" font-size="8.9" fill="#333" text-anchor="start" font-weight="normal" >LAPTM4A</text>
<polyline points="42.50,507.00 55.01,504.00 67.52,503.00 80.04,503.00 123.83,501.00 211.41,507.00 299.00,504.00" fill="none" stroke="#f0787a" stroke-width="0.75"/>
<circle cx="42.50" cy="507.00" r="0.9" fill="#f0787a"/>
<circle cx="55.01" cy="504.00" r="0.9" fill="#f0787a"/>
<circle cx="67.52" cy="503.00" r="0.9" fill="#f0787a"/>
<circle cx="80.04" cy="503.00" r="0.9" fill="#f0787a"/>
<circle cx="123.83" cy="501.00" r="0.9" fill="#f0787a"/>
<circle cx="211.41" cy="507.00" r="0.9" fill="#f0787a"/>
<circle cx="299.00" cy="504.00" r="0.9" fill="#f0787a"/>
<polyline points="42.50,500.90 55.01,503.35 67.52,501.96 80.04,503.83 123.83,506.70 211.41,500.33 299.00,499.11" fill="none" stroke="#9aaa30" stroke-width="0.75"/>
<circle cx="42.50" cy="500.90" r="0.9" fill="#9aaa30"/>
<circle cx="55.01" cy="503.35" r="0.9" fill="#9aaa30"/>
<circle cx="67.52" cy="501.96" r="0.9" fill="#9aaa30"/>
<circle cx="80.04" cy="503.83" r="0.9" fill="#9aaa30"/>
<circle cx="123.83" cy="506.70" r="0.9" fill="#9aaa30"/>
<circle cx="211.41" cy="500.33" r="0.9" fill="#9aaa30"/>
<circle cx="299.00" cy="499.11" r="0.9" fill="#9aaa30"/>
<polyline points="42.50,500.87 55.01,506.97 67.52,502.76 80.04,505.69 123.83,505.08 211.41,505.81 299.00,500.20" fill="none" stroke="#30c0a0" stroke-width="0.75"/>
<circle cx="42.50" cy="500.87" r="0.9" fill="#30c0a0"/>
<circle cx="55.01" cy="506.97" r="0.9" fill="#30c0a0"/>
<circle cx="67.52" cy="502.76" r="0.9" fill="#30c0a0"/>
<circle cx="80.04" cy="505.69" r="0.9" fill="#30c0a0"/>
<circle cx="123.83" cy="505.08" r="0.9" fill="#30c0a0"/>
<circle cx="211.41" cy="505.81" r="0.9" fill="#30c0a0"/>
<circle cx="299.00" cy="500.20" r="0.9" fill="#30c0a0"/>
<polyline points="42.50,492.30 55.01,512.70 67.52,500.00 80.04,501.00 123.83,503.00 211.41,500.00 299.00,512.00" fill="none" stroke="#6090e0" stroke-width="0.75"/>
<circle cx="42.50" cy="492.30" r="0.9" fill="#6090e0"/>
<circle cx="55.01" cy="512.70" r="0.9" fill="#6090e0"/>
<circle cx="67.52" cy="500.00" r="0.9" fill="#6090e0"/>
<circle cx="80.04" cy="501.00" r="0.9" fill="#6090e0"/>
<circle cx="123.83" cy="503.00" r="0.9" fill="#6090e0"/>
<circle cx="211.41" cy="500.00" r="0.9" fill="#6090e0"/>
<circle cx="299.00" cy="512.00" r="0.9" fill="#6090e0"/>
<polyline points="42.50,503.19 55.01,504.93 67.52,504.37 80.04,499.51 123.83,500.25 211.41,505.79 299.00,501.41" fill="none" stroke="#a8a030" stroke-width="0.75"/>
<circle cx="42.50" cy="503.19" r="0.9" fill="#a8a030"/>
<circle cx="55.01" cy="504.93" r="0.9" fill="#a8a030"/>
<circle cx="67.52" cy="504.37" r="0.9" fill="#a8a030"/>
<circle cx="80.04" cy="499.51" r="0.9" fill="#a8a030"/>
<circle cx="123.83" cy="500.25" r="0.9" fill="#a8a030"/>
<circle cx="211.41" cy="505.79" r="0.9" fill="#a8a030"/>
<circle cx="299.00" cy="501.41" r="0.9" fill="#a8a030"/>
<polyline points="42.50,502.78 55.01,504.75 67.52,506.03 80.04,504.71 123.83,503.56 211.41,506.42 299.00,505.41" fill="none" stroke="#f070c0" stroke-width="0.75"/>
<circle cx="42.50" cy="502.78" r="0.9" fill="#f070c0"/>
<circle cx="55.01" cy="504.75" r="0.9" fill="#f070c0"/>
<circle cx="67.52" cy="506.03" r="0.9" fill="#f070c0"/>
<circle cx="80.04" cy="504.71" r="0.9" fill="#f070c0"/>
<circle cx="123.83" cy="503.56" r="0.9" fill="#f070c0"/>
<circle cx="211.41" cy="506.42" r="0.9" fill="#f070c0"/>
<circle cx="299.00" cy="505.41" r="0.9" fill="#f070c0"/>
<polyline points="42.50,486.60 55.01,499.00 67.52,512.50 80.04,513.00 123.83,516.00 211.41,497.00 299.00,511.00" fill="none" stroke="#c050d0" stroke-width="0.75"/>
<circle cx="42.50" cy="486.60" r="0.9" fill="#c050d0"/>
<circle cx="55.01" cy="499.00" r="0.9" fill="#c050d0"/>
<circle cx="67.52" cy="512.50" r="0.9" fill="#c050d0"/>
<circle cx="80.04" cy="513.00" r="0.9" fill="#c050d0"/>
<circle cx="123.83" cy="516.00" r="0.9" fill="#c050d0"/>
<circle cx="211.41" cy="497.00" r="0.9" fill="#c050d0"/>
<circle cx="299.00" cy="511.00" r="0.9" fill="#c050d0"/>
<polyline points="42.50,506.03 55.01,499.78 67.52,500.09 80.04,500.74 123.83,502.41 211.41,502.57 299.00,504.01" fill="none" stroke="#d0a040" stroke-width="0.75"/>
<circle cx="42.50" cy="506.03" r="0.9" fill="#d0a040"/>
<circle cx="55.01" cy="499.78" r="0.9" fill="#d0a040"/>
<circle cx="67.52" cy="500.09" r="0.9" fill="#d0a040"/>
<circle cx="80.04" cy="500.74" r="0.9" fill="#d0a040"/>
<circle cx="123.83" cy="502.41" r="0.9" fill="#d0a040"/>
<circle cx="211.41" cy="502.57" r="0.9" fill="#d0a040"/>
<circle cx="299.00" cy="504.01" r="0.9" fill="#d0a040"/>
<polyline points="42.50,502.09 55.01,501.81 67.52,503.68 80.04,503.67 123.83,506.85 211.41,506.92 299.00,506.43" fill="none" stroke="#f08a60" stroke-width="0.75"/>
<circle cx="42.50" cy="502.09" r="0.9" fill="#f08a60"/>
<circle cx="55.01" cy="501.81" r="0.9" fill="#f08a60"/>
<circle cx="67.52" cy="503.68" r="0.9" fill="#f08a60"/>
<circle cx="80.04" cy="503.67" r="0.9" fill="#f08a60"/>
<circle cx="123.83" cy="506.85" r="0.9" fill="#f08a60"/>
<circle cx="211.41" cy="506.92" r="0.9" fill="#f08a60"/>
<circle cx="299.00" cy="506.43" r="0.9" fill="#f08a60"/>
<polyline points="42.50,504.37 55.01,500.30 67.52,505.89 80.04,506.72 123.83,501.69 211.41,505.48 299.00,504.71" fill="none" stroke="#5cb840" stroke-width="0.75"/>
<circle cx="42.50" cy="504.37" r="0.9" fill="#5cb840"/>
<circle cx="55.01" cy="500.30" r="0.9" fill="#5cb840"/>
<circle cx="67.52" cy="505.89" r="0.9" fill="#5cb840"/>
<circle cx="80.04" cy="506.72" r="0.9" fill="#5cb840"/>
<circle cx="123.83" cy="501.69" r="0.9" fill="#5cb840"/>
<circle cx="211.41" cy="505.48" r="0.9" fill="#5cb840"/>
<circle cx="299.00" cy="504.71" r="0.9" fill="#5cb840"/>
<polyline points="42.50,503.59 55.01,501.28 67.52,499.51 80.04,505.83 123.83,503.28 211.41,499.36 299.00,505.40" fill="none" stroke="#30bcb0" stroke-width="0.75"/>
<circle cx="42.50" cy="503.59" r="0.9" fill="#30bcb0"/>
<circle cx="55.01" cy="501.28" r="0.9" fill="#30bcb0"/>
<circle cx="67.52" cy="499.51" r="0.9" fill="#30bcb0"/>
<circle cx="80.04" cy="505.83" r="0.9" fill="#30bcb0"/>
<circle cx="123.83" cy="503.28" r="0.9" fill="#30bcb0"/>
<circle cx="211.41" cy="499.36" r="0.9" fill="#30bcb0"/>
<circle cx="299.00" cy="505.40" r="0.9" fill="#30bcb0"/>
<polyline points="42.50,501.35 55.01,505.15 67.52,505.98 80.04,499.35 123.83,502.65 211.41,505.93 299.00,504.75" fill="none" stroke="#8a80e8" stroke-width="0.75"/>
<circle cx="42.50" cy="501.35" r="0.9" fill="#8a80e8"/>
<circle cx="55.01" cy="505.15" r="0.9" fill="#8a80e8"/>
<circle cx="67.52" cy="505.98" r="0.9" fill="#8a80e8"/>
<circle cx="80.04" cy="499.35" r="0.9" fill="#8a80e8"/>
<circle cx="123.83" cy="502.65" r="0.9" fill="#8a80e8"/>
<circle cx="211.41" cy="505.93" r="0.9" fill="#8a80e8"/>
<circle cx="299.00" cy="504.75" r="0.9" fill="#8a80e8"/>
<polyline points="42.50,506.85 55.01,503.04 67.52,506.99 80.04,501.48 123.83,501.58 211.41,501.67 299.00,499.25" fill="none" stroke="#30c090" stroke-width="0.75"/>
<circle cx="42.50" cy="506.85" r="0.9" fill="#30c090"/>
<circle cx="55.01" cy="503.04" r="0.9" fill="#30c090"/>
<circle cx="67.52" cy="506.99" r="0.9" fill="#30c090"/>
<circle cx="80.04" cy="501.48" r="0.9" fill="#30c090"/>
<circle cx="123.83" cy="501.58" r="0.9" fill="#30c090"/>
<circle cx="211.41" cy="501.67" r="0.9" fill="#30c090"/>
<circle cx="299.00" cy="499.25" r="0.9" fill="#30c090"/>
<polyline points="42.50,503.88 55.01,500.25 67.52,499.34 80.04,505.94 123.83,503.02 211.41,502.14 299.00,506.17" fill="none" stroke="#f06090" stroke-width="0.75"/>
<circle cx="42.50" cy="503.88" r="0.9" fill="#f06090"/>
<circle cx="55.01" cy="500.25" r="0.9" fill="#f06090"/>
<circle cx="67.52" cy="499.34" r="0.9" fill="#f06090"/>
<circle cx="80.04" cy="505.94" r="0.9" fill="#f06090"/>
<circle cx="123.83" cy="503.02" r="0.9" fill="#f06090"/>
<circle cx="211.41" cy="502.14" r="0.9" fill="#f06090"/>
<circle cx="299.00" cy="506.17" r="0.9" fill="#f06090"/>
<polyline points="42.50,503.16 55.01,504.15 67.52,503.77 80.04,503.47 123.83,503.45 211.41,504.48 299.00,503.06" fill="none" stroke="#40a8e8" stroke-width="0.75"/>
<circle cx="42.50" cy="503.16" r="0.9" fill="#40a8e8"/>
<circle cx="55.01" cy="504.15" r="0.9" fill="#40a8e8"/>
<circle cx="67.52" cy="503.77" r="0.9" fill="#40a8e8"/>
<circle cx="80.04" cy="503.47" r="0.9" fill="#40a8e8"/>
<circle cx="123.83" cy="503.45" r="0.9" fill="#40a8e8"/>
<circle cx="211.41" cy="504.48" r="0.9" fill="#40a8e8"/>
<circle cx="299.00" cy="503.06" r="0.9" fill="#40a8e8"/>
<polyline points="42.50,500.90 55.01,501.41 67.52,506.82 80.04,503.17 123.83,504.64 211.41,498.18 299.00,502.32" fill="none" stroke="#d89a30" stroke-width="0.75"/>
<circle cx="42.50" cy="500.90" r="0.9" fill="#d89a30"/>
<circle cx="55.01" cy="501.41" r="0.9" fill="#d89a30"/>
<circle cx="67.52" cy="506.82" r="0.9" fill="#d89a30"/>
<circle cx="80.04" cy="503.17" r="0.9" fill="#d89a30"/>
<circle cx="123.83" cy="504.64" r="0.9" fill="#d89a30"/>
<circle cx="211.41" cy="498.18" r="0.9" fill="#d89a30"/>
<circle cx="299.00" cy="502.32" r="0.9" fill="#d89a30"/>
<polyline points="42.50,503.93 55.01,504.06 67.52,499.48 80.04,504.02 123.83,505.66 211.41,504.64 299.00,501.82" fill="none" stroke="#3cbc60" stroke-width="0.75"/>
<circle cx="42.50" cy="503.93" r="0.9" fill="#3cbc60"/>
<circle cx="55.01" cy="504.06" r="0.9" fill="#3cbc60"/>
<circle cx="67.52" cy="499.48" r="0.9" fill="#3cbc60"/>
<circle cx="80.04" cy="504.02" r="0.9" fill="#3cbc60"/>
<circle cx="123.83" cy="505.66" r="0.9" fill="#3cbc60"/>
<circle cx="211.41" cy="504.64" r="0.9" fill="#3cbc60"/>
<circle cx="299.00" cy="501.82" r="0.9" fill="#3cbc60"/>
<polyline points="42.50,503.00 55.01,495.00 67.52,502.00 80.04,502.00 123.83,504.00 211.41,503.00 299.00,493.00" fill="none" stroke="#30b8d0" stroke-width="0.75"/>
<circle cx="42.50" cy="503.00" r="0.9" fill="#30b8d0"/>
<circle cx="55.01" cy="495.00" r="0.9" fill="#30b8d0"/>
<circle cx="67.52" cy="502.00" r="0.9" fill="#30b8d0"/>
<circle cx="80.04" cy="502.00" r="0.9" fill="#30b8d0"/>
<circle cx="123.83" cy="504.00" r="0.9" fill="#30b8d0"/>
<circle cx="211.41" cy="503.00" r="0.9" fill="#30b8d0"/>
<circle cx="299.00" cy="493.00" r="0.9" fill="#30b8d0"/>
<polyline points="42.50,505.00 55.01,507.00 67.52,510.00 80.04,511.00 123.83,511.00 211.41,496.00 299.00,508.00" fill="none" stroke="#b070e0" stroke-width="0.75"/>
<circle cx="42.50" cy="505.00" r="0.9" fill="#b070e0"/>
<circle cx="55.01" cy="507.00" r="0.9" fill="#b070e0"/>
<circle cx="67.52" cy="510.00" r="0.9" fill="#b070e0"/>
<circle cx="80.04" cy="511.00" r="0.9" fill="#b070e0"/>
<circle cx="123.83" cy="511.00" r="0.9" fill="#b070e0"/>
<circle cx="211.41" cy="496.00" r="0.9" fill="#b070e0"/>
<circle cx="299.00" cy="508.00" r="0.9" fill="#b070e0"/>
<polyline points="42.50,499.18 55.01,499.48 67.52,504.41 80.04,506.71 123.83,502.56 211.41,501.28 299.00,503.74" fill="none" stroke="#30a8e0" stroke-width="0.75"/>
<circle cx="42.50" cy="499.18" r="0.9" fill="#30a8e0"/>
<circle cx="55.01" cy="499.48" r="0.9" fill="#30a8e0"/>
<circle cx="67.52" cy="504.41" r="0.9" fill="#30a8e0"/>
<circle cx="80.04" cy="506.71" r="0.9" fill="#30a8e0"/>
<circle cx="123.83" cy="502.56" r="0.9" fill="#30a8e0"/>
<circle cx="211.41" cy="501.28" r="0.9" fill="#30a8e0"/>
<circle cx="299.00" cy="503.74" r="0.9" fill="#30a8e0"/>
<polyline points="42.50,501.50 55.01,501.95 67.52,503.76 80.04,501.40 123.83,504.55 211.41,504.62 299.00,499.22" fill="none" stroke="#e070d0" stroke-width="0.75"/>
<circle cx="42.50" cy="501.50" r="0.9" fill="#e070d0"/>
<circle cx="55.01" cy="501.95" r="0.9" fill="#e070d0"/>
<circle cx="67.52" cy="503.76" r="0.9" fill="#e070d0"/>
<circle cx="80.04" cy="501.40" r="0.9" fill="#e070d0"/>
<circle cx="123.83" cy="504.55" r="0.9" fill="#e070d0"/>
<circle cx="211.41" cy="504.62" r="0.9" fill="#e070d0"/>
<circle cx="299.00" cy="499.22" r="0.9" fill="#e070d0"/>
<polyline points="42.50,501.48 55.01,500.78 67.52,505.43 80.04,500.91 123.83,500.81 211.41,500.90 299.00,504.58" fill="none" stroke="#30b060" stroke-width="0.75"/>
<circle cx="42.50" cy="501.48" r="0.9" fill="#30b060"/>
<circle cx="55.01" cy="500.78" r="0.9" fill="#30b060"/>
<circle cx="67.52" cy="505.43" r="0.9" fill="#30b060"/>
<circle cx="80.04" cy="500.91" r="0.9" fill="#30b060"/>
<circle cx="123.83" cy="500.81" r="0.9" fill="#30b060"/>
<circle cx="211.41" cy="500.90" r="0.9" fill="#30b060"/>
<circle cx="299.00" cy="504.58" r="0.9" fill="#30b060"/>
<line x1="28.80" y1="503.00" x2="320.00" y2="503.00" stroke="#8c8c8c" stroke-width="1.3" stroke-dasharray="10,10.1"/>
<text x="347.50" y="331.00" font-size="15" fill="#111" text-anchor="start" font-weight="normal" >g</text>
<line x1="377.50" y1="329.70" x2="377.50" y2="568.50" stroke="#6a6a6a" stroke-width="1" />
<line x1="377.50" y1="568.00" x2="668.80" y2="568.00" stroke="#6a6a6a" stroke-width="1" />
<path d="M666.8,565.0 L672.8,568.0 L666.8,571.0" fill="none" stroke="#6a6a6a" stroke-width="1"/>
<line x1="390.40" y1="564.50" x2="390.40" y2="568.00" stroke="#6a6a6a" stroke-width="1" />
<line x1="402.93" y1="564.50" x2="402.93" y2="568.00" stroke="#6a6a6a" stroke-width="1" />
<line x1="415.45" y1="564.50" x2="415.45" y2="568.00" stroke="#6a6a6a" stroke-width="1" />
<line x1="427.98" y1="564.50" x2="427.98" y2="568.00" stroke="#6a6a6a" stroke-width="1" />
<line x1="471.82" y1="564.50" x2="471.82" y2="568.00" stroke="#6a6a6a" stroke-width="1" />
<line x1="559.51" y1="564.50" x2="559.51" y2="568.00" stroke="#6a6a6a" stroke-width="1" />
<line x1="647.20" y1="564.50" x2="647.20" y2="568.00" stroke="#6a6a6a" stroke-width="1" />
<text x="390.40" y="580.90" font-size="11.3" fill="#444" text-anchor="middle" font-weight="normal" >1</text>
<text x="402.93" y="580.90" font-size="11.3" fill="#444" text-anchor="middle" font-weight="normal" >3</text>
<text x="415.45" y="580.90" font-size="11.3" fill="#444" text-anchor="middle" font-weight="normal" >5</text>
<text x="427.98" y="580.90" font-size="11.3" fill="#444" text-anchor="middle" font-weight="normal" >7</text>
<text x="471.82" y="580.90" font-size="11.3" fill="#444" text-anchor="middle" font-weight="normal" >14</text>
<text x="559.51" y="580.90" font-size="11.3" fill="#444" text-anchor="middle" font-weight="normal" >28</text>
<text x="646.40" y="580.90" font-size="11.3" fill="#444" text-anchor="middle" font-weight="normal" >42</text>
<text x="654.60" y="580.90" font-size="11.3" fill="#333" text-anchor="start" font-weight="normal" >(dpa)</text>
<text x="375.00" y="507.00" font-size="11.4" fill="#444" text-anchor="end" font-weight="normal" >1</text>
<text x="0.00" y="0.00" font-size="11.7" fill="#222" text-anchor="middle" font-weight="normal" transform="translate(364.0,468.9) rotate(-90)">YAP-KO / WT gene expression ratio</text>
<text x="429.30" y="330.60" font-size="14.1" fill="#111" text-anchor="start" font-weight="normal" >TAZ−specific target genes</text>
<line x1="415.70" y1="347.00" x2="424.70" y2="347.00" stroke="#f0787a" stroke-width="0.8" />
<circle cx="420.20" cy="347.00" r="0.8" fill="#f0787a"/>
<text x="430.10" y="350.20" font-size="8.9" fill="#333" text-anchor="start" font-weight="normal" >CCDC112</text>
<line x1="415.70" y1="363.30" x2="424.70" y2="363.30" stroke="#40bc60" stroke-width="0.8" />
<circle cx="420.20" cy="363.30" r="0.8" fill="#40bc60"/>
<text x="430.10" y="366.50" font-size="8.9" fill="#333" text-anchor="start" font-weight="normal" >KIF3C</text>
<line x1="415.70" y1="379.60" x2="424.70" y2="379.60" stroke="#8a88e8" stroke-width="0.8" />
<circle cx="420.20" cy="379.60" r="0.8" fill="#8a88e8"/>
<text x="430.10" y="382.80" font-size="8.9" fill="#333" text-anchor="start" font-weight="normal" >RNF149</text>
<line x1="415.70" y1="395.90" x2="424.70" y2="395.90" stroke="#60b840" stroke-width="0.8" />
<circle cx="420.20" cy="395.90" r="0.8" fill="#60b840"/>
<text x="430.10" y="399.10" font-size="8.9" fill="#333" text-anchor="start" font-weight="normal" >ICAM4</text>
<line x1="504.00" y1="347.00" x2="513.00" y2="347.00" stroke="#d8902c" stroke-width="0.8" />
<circle cx="508.50" cy="347.00" r="0.8" fill="#d8902c"/>
<text x="518.00" y="350.20" font-size="8.9" fill="#333" text-anchor="start" font-weight="normal" >CEP104</text>
<line x1="504.00" y1="363.30" x2="513.00" y2="363.30" stroke="#30c0a0" stroke-width="0.8" />
<circle cx="508.50" cy="363.30" r="0.8" fill="#30c0a0"/>
<text x="518.00" y="366.50" font-size="8.9" fill="#333" text-anchor="start" font-weight="normal" >MAN1A2</text>
<line x1="504.00" y1="379.60" x2="513.00" y2="379.60" stroke="#c070d8" stroke-width="0.8" />
<circle cx="508.50" cy="379.60" r="0.8" fill="#c070d8"/>
<text x="518.00" y="382.80" font-size="8.9" fill="#333" text-anchor="start" font-weight="normal" >TMCO3</text>
<line x1="504.00" y1="395.90" x2="513.00" y2="395.90" stroke="#40a0e0" stroke-width="0.8" />
<circle cx="508.50" cy="395.90" r="0.8" fill="#40a0e0"/>
<text x="518.00" y="399.10" font-size="8.9" fill="#333" text-anchor="start" font-weight="normal" >PIBF1</text>
<line x1="586.90" y1="347.00" x2="595.90" y2="347.00" stroke="#a8a830" stroke-width="0.8" />
<circle cx="591.40" cy="347.00" r="0.8" fill="#a8a830"/>
<text x="600.60" y="350.20" font-size="8.9" fill="#333" text-anchor="start" font-weight="normal" >COPS9</text>
<line x1="586.90" y1="363.30" x2="595.90" y2="363.30" stroke="#30bcd8" stroke-width="0.8" />
<circle cx="591.40" cy="363.30" r="0.8" fill="#30bcd8"/>
<text x="600.60" y="366.50" font-size="8.9" fill="#333" text-anchor="start" font-weight="normal" >NDOR1</text>
<line x1="586.90" y1="379.60" x2="595.90" y2="379.60" stroke="#f060b0" stroke-width="0.8" />
<circle cx="591.40" cy="379.60" r="0.8" fill="#f060b0"/>
<text x="600.60" y="382.80" font-size="8.9" fill="#333" text-anchor="start" font-weight="normal" >TOPBP1</text>
<polyline points="390.40,483.00 402.93,473.90 415.45,437.00 427.98,443.60 471.82,482.50 559.51,464.00 647.20,464.00" fill="none" stroke="#f0787a" stroke-width="0.75"/>
<circle cx="390.40" cy="483.00" r="0.9" fill="#f0787a"/>
<circle cx="402.93" cy="473.90" r="0.9" fill="#f0787a"/>
<circle cx="415.45" cy="437.00" r="0.9" fill="#f0787a"/>
<circle cx="427.98" cy="443.60" r="0.9" fill="#f0787a"/>
<circle cx="471.82" cy="482.50" r="0.9" fill="#f0787a"/>
<circle cx="559.51" cy="464.00" r="0.9" fill="#f0787a"/>
<circle cx="647.20" cy="464.00" r="0.9" fill="#f0787a"/>
<polyline points="390.40,480.00 402.93,471.20 415.45,490.00 427.98,498.80 471.82,449.40 559.51,478.90 647.20,485.60" fill="none" stroke="#a8a830" stroke-width="0.75"/>
<circle cx="390.40" cy="480.00" r="0.9" fill="#a8a830"/>
<circle cx="402.93" cy="471.20" r="0.9" fill="#a8a830"/>
<circle cx="415.45" cy="490.00" r="0.9" fill="#a8a830"/>
<circle cx="427.98" cy="498.80" r="0.9" fill="#a8a830"/>
<circle cx="471.82" cy="449.40" r="0.9" fill="#a8a830"/>
<circle cx="559.51" cy="478.90" r="0.9" fill="#a8a830"/>
<circle cx="647.20" cy="485.60" r="0.9" fill="#a8a830"/>
<polyline points="390.40,487.00 402.93,483.80 415.45,495.00 427.98,479.10 471.82,497.80 559.51,497.00 647.20,499.70" fill="none" stroke="#d8902c" stroke-width="0.75"/>
<circle cx="390.40" cy="487.00" r="0.9" fill="#d8902c"/>
<circle cx="402.93" cy="483.80" r="0.9" fill="#d8902c"/>
<circle cx="415.45" cy="495.00" r="0.9" fill="#d8902c"/>
<circle cx="427.98" cy="479.10" r="0.9" fill="#d8902c"/>
<circle cx="471.82" cy="497.80" r="0.9" fill="#d8902c"/>
<circle cx="559.51" cy="497.00" r="0.9" fill="#d8902c"/>
<circle cx="647.20" cy="499.70" r="0.9" fill="#d8902c"/>
<polyline points="390.40,474.00 402.93,458.90 415.45,490.00 427.98,481.00 471.82,500.70 559.51,495.60 647.20,509.00" fill="none" stroke="#40bc60" stroke-width="0.75"/>
<circle cx="390.40" cy="474.00" r="0.9" fill="#40bc60"/>
<circle cx="402.93" cy="458.90" r="0.9" fill="#40bc60"/>
<circle cx="415.45" cy="490.00" r="0.9" fill="#40bc60"/>
<circle cx="427.98" cy="481.00" r="0.9" fill="#40bc60"/>
<circle cx="471.82" cy="500.70" r="0.9" fill="#40bc60"/>
<circle cx="559.51" cy="495.60" r="0.9" fill="#40bc60"/>
<circle cx="647.20" cy="509.00" r="0.9" fill="#40bc60"/>
<polyline points="390.40,500.00 402.93,492.30 415.45,500.00 427.98,482.00 471.82,500.70 559.51,501.00 647.20,509.00" fill="none" stroke="#60b840" stroke-width="0.75"/>
<circle cx="390.40" cy="500.00" r="0.9" fill="#60b840"/>
<circle cx="402.93" cy="492.30" r="0.9" fill="#60b840"/>
<circle cx="415.45" cy="500.00" r="0.9" fill="#60b840"/>
<circle cx="427.98" cy="482.00" r="0.9" fill="#60b840"/>
<circle cx="471.82" cy="500.70" r="0.9" fill="#60b840"/>
<circle cx="559.51" cy="501.00" r="0.9" fill="#60b840"/>
<circle cx="647.20" cy="509.00" r="0.9" fill="#60b840"/>
<polyline points="390.40,495.00 402.93,475.20 415.45,482.50 427.98,484.00 471.82,508.00 559.51,487.50 647.20,491.60" fill="none" stroke="#30c0a0" stroke-width="0.75"/>
<circle cx="390.40" cy="495.00" r="0.9" fill="#30c0a0"/>
<circle cx="402.93" cy="475.20" r="0.9" fill="#30c0a0"/>
<circle cx="415.45" cy="482.50" r="0.9" fill="#30c0a0"/>
<circle cx="427.98" cy="484.00" r="0.9" fill="#30c0a0"/>
<circle cx="471.82" cy="508.00" r="0.9" fill="#30c0a0"/>
<circle cx="559.51" cy="487.50" r="0.9" fill="#30c0a0"/>
<circle cx="647.20" cy="491.60" r="0.9" fill="#30c0a0"/>
<polyline points="390.40,497.00 402.93,461.50 415.45,484.00 427.98,500.00 471.82,508.00 559.51,482.70 647.20,516.70" fill="none" stroke="#30bcd8" stroke-width="0.75"/>
<circle cx="390.40" cy="497.00" r="0.9" fill="#30bcd8"/>
<circle cx="402.93" cy="461.50" r="0.9" fill="#30bcd8"/>
<circle cx="415.45" cy="484.00" r="0.9" fill="#30bcd8"/>
<circle cx="427.98" cy="500.00" r="0.9" fill="#30bcd8"/>
<circle cx="471.82" cy="508.00" r="0.9" fill="#30bcd8"/>
<circle cx="559.51" cy="482.70" r="0.9" fill="#30bcd8"/>
<circle cx="647.20" cy="516.70" r="0.9" fill="#30bcd8"/>
<polyline points="390.40,490.40 402.93,487.80 415.45,494.00 427.98,492.00 471.82,512.00 559.51,505.00 647.20,510.50" fill="none" stroke="#8a88e8" stroke-width="0.75"/>
<circle cx="390.40" cy="490.40" r="0.9" fill="#8a88e8"/>
<circle cx="402.93" cy="487.80" r="0.9" fill="#8a88e8"/>
<circle cx="415.45" cy="494.00" r="0.9" fill="#8a88e8"/>
<circle cx="427.98" cy="492.00" r="0.9" fill="#8a88e8"/>
<circle cx="471.82" cy="512.00" r="0.9" fill="#8a88e8"/>
<circle cx="559.51" cy="505.00" r="0.9" fill="#8a88e8"/>
<circle cx="647.20" cy="510.50" r="0.9" fill="#8a88e8"/>
<polyline points="390.40,492.00 402.93,487.80 415.45,490.00 427.98,486.00 471.82,512.00 559.51,500.50 647.20,509.00" fill="none" stroke="#c070d8" stroke-width="0.75"/>
<circle cx="390.40" cy="492.00" r="0.9" fill="#c070d8"/>
<circle cx="402.93" cy="487.80" r="0.9" fill="#c070d8"/>
<circle cx="415.45" cy="490.00" r="0.9" fill="#c070d8"/>
<circle cx="427.98" cy="486.00" r="0.9" fill="#c070d8"/>
<circle cx="471.82" cy="512.00" r="0.9" fill="#c070d8"/>
<circle cx="559.51" cy="500.50" r="0.9" fill="#c070d8"/>
<circle cx="647.20" cy="509.00" r="0.9" fill="#c070d8"/>
<polyline points="390.40,485.00 402.93,485.00 415.45,493.00 427.98,482.00 471.82,517.70 559.51,492.40 647.20,492.90" fill="none" stroke="#f060b0" stroke-width="0.75"/>
<circle cx="390.40" cy="485.00" r="0.9" fill="#f060b0"/>
<circle cx="402.93" cy="485.00" r="0.9" fill="#f060b0"/>
<circle cx="415.45" cy="493.00" r="0.9" fill="#f060b0"/>
<circle cx="427.98" cy="482.00" r="0.9" fill="#f060b0"/>
<circle cx="471.82" cy="517.70" r="0.9" fill="#f060b0"/>
<circle cx="559.51" cy="492.40" r="0.9" fill="#f060b0"/>
<circle cx="647.20" cy="492.90" r="0.9" fill="#f060b0"/>
<polyline points="390.40,476.50 402.93,498.00 415.45,486.00 427.98,488.00 471.82,510.60 559.51,493.50 647.20,511.80" fill="none" stroke="#40a0e0" stroke-width="0.75"/>
<circle cx="390.40" cy="476.50" r="0.9" fill="#40a0e0"/>
<circle cx="402.93" cy="498.00" r="0.9" fill="#40a0e0"/>
<circle cx="415.45" cy="486.00" r="0.9" fill="#40a0e0"/>
<circle cx="427.98" cy="488.00" r="0.9" fill="#40a0e0"/>
<circle cx="471.82" cy="510.60" r="0.9" fill="#40a0e0"/>
<circle cx="559.51" cy="493.50" r="0.9" fill="#40a0e0"/>
<circle cx="647.20" cy="511.80" r="0.9" fill="#40a0e0"/>
<line x1="377.50" y1="503.00" x2="668.80" y2="503.00" stroke="#8c8c8c" stroke-width="1.3" stroke-dasharray="10,10.1"/>
<text x="0.80" y="622.30" font-size="15" fill="#111" text-anchor="start" font-weight="normal" >h</text>
<line x1="28.80" y1="617.90" x2="28.80" y2="856.20" stroke="#6a6a6a" stroke-width="1" />
<line x1="28.80" y1="855.70" x2="318.60" y2="855.70" stroke="#6a6a6a" stroke-width="1" />
<path d="M316.6,852.7 L322.6,855.7 L316.6,858.7" fill="none" stroke="#6a6a6a" stroke-width="1"/>
<line x1="42.20" y1="852.20" x2="42.20" y2="855.70" stroke="#6a6a6a" stroke-width="1" />
<line x1="54.64" y1="852.20" x2="54.64" y2="855.70" stroke="#6a6a6a" stroke-width="1" />
<line x1="67.09" y1="852.20" x2="67.09" y2="855.70" stroke="#6a6a6a" stroke-width="1" />
<line x1="79.53" y1="852.20" x2="79.53" y2="855.70" stroke="#6a6a6a" stroke-width="1" />
<line x1="123.09" y1="852.20" x2="123.09" y2="855.70" stroke="#6a6a6a" stroke-width="1" />
<line x1="210.19" y1="852.20" x2="210.19" y2="855.70" stroke="#6a6a6a" stroke-width="1" />
<line x1="297.30" y1="852.20" x2="297.30" y2="855.70" stroke="#6a6a6a" stroke-width="1" />
<text x="42.20" y="868.60" font-size="11.3" fill="#444" text-anchor="middle" font-weight="normal" >1</text>
<text x="54.64" y="868.60" font-size="11.3" fill="#444" text-anchor="middle" font-weight="normal" >3</text>
<text x="67.09" y="868.60" font-size="11.3" fill="#444" text-anchor="middle" font-weight="normal" >5</text>
<text x="79.53" y="868.60" font-size="11.3" fill="#444" text-anchor="middle" font-weight="normal" >7</text>
<text x="123.09" y="868.60" font-size="11.3" fill="#444" text-anchor="middle" font-weight="normal" >14</text>
<text x="210.19" y="868.60" font-size="11.3" fill="#444" text-anchor="middle" font-weight="normal" >28</text>
<text x="296.50" y="868.60" font-size="11.3" fill="#444" text-anchor="middle" font-weight="normal" >42</text>
<text x="304.70" y="868.60" font-size="11.3" fill="#333" text-anchor="start" font-weight="normal" >(dpa)</text>
<text x="26.30" y="795.40" font-size="11.4" fill="#444" text-anchor="end" font-weight="normal" >1</text>
<text x="0.00" y="0.00" font-size="11.7" fill="#222" text-anchor="middle" font-weight="normal" transform="translate(15.1,755.3) rotate(-90)">YAP-KO / WT gene expression ratio</text>
<text x="77.50" y="616.90" font-size="14.1" fill="#111" text-anchor="start" font-weight="normal" >YAP−specific target genes</text>
<line x1="52.50" y1="632.00" x2="61.50" y2="632.00" stroke="#f0787a" stroke-width="0.8" />
<circle cx="57.00" cy="632.00" r="0.8" fill="#f0787a"/>
<text x="67.00" y="635.20" font-size="8.9" fill="#333" text-anchor="start" font-weight="normal" >BRCA1</text>
<line x1="52.50" y1="647.95" x2="61.50" y2="647.95" stroke="#60b840" stroke-width="0.8" />
<circle cx="57.00" cy="647.95" r="0.8" fill="#60b840"/>
<text x="67.00" y="651.15" font-size="8.9" fill="#333" text-anchor="start" font-weight="normal" >EIF4G2</text>
<line x1="52.50" y1="663.90" x2="61.50" y2="663.90" stroke="#40b8e0" stroke-width="0.8" />
<circle cx="57.00" cy="663.90" r="0.8" fill="#40b8e0"/>
<text x="67.00" y="667.10" font-size="8.9" fill="#333" text-anchor="start" font-weight="normal" >PAK1</text>
<line x1="52.50" y1="679.85" x2="61.50" y2="679.85" stroke="#d070d0" stroke-width="0.8" />
<circle cx="57.00" cy="679.85" r="0.8" fill="#d070d0"/>
<text x="67.00" y="683.05" font-size="8.9" fill="#333" text-anchor="start" font-weight="normal" >UBE2G1</text>
<line x1="52.50" y1="695.80" x2="61.50" y2="695.80" stroke="#a8a030" stroke-width="0.8" />
<circle cx="57.00" cy="695.80" r="0.8" fill="#a8a030"/>
<text x="67.00" y="699.00" font-size="8.9" fill="#333" text-anchor="start" font-weight="normal" >DENND5B</text>
<line x1="52.50" y1="711.75" x2="61.50" y2="711.75" stroke="#90a830" stroke-width="0.8" />
<circle cx="57.00" cy="711.75" r="0.8" fill="#90a830"/>
<text x="67.00" y="714.95" font-size="8.9" fill="#333" text-anchor="start" font-weight="normal" >E2F8</text>
<line x1="137.20" y1="632.00" x2="146.20" y2="632.00" stroke="#f08a40" stroke-width="0.8" />
<circle cx="141.70" cy="632.00" r="0.8" fill="#f08a40"/>
<text x="151.10" y="635.20" font-size="8.9" fill="#333" text-anchor="start" font-weight="normal" >CDC25C</text>
<line x1="137.20" y1="647.95" x2="146.20" y2="647.95" stroke="#40b850" stroke-width="0.8" />
<circle cx="141.70" cy="647.95" r="0.8" fill="#40b850"/>
<text x="151.10" y="651.15" font-size="8.9" fill="#333" text-anchor="start" font-weight="normal" >GINS4</text>
<line x1="137.20" y1="663.90" x2="146.20" y2="663.90" stroke="#30a8e0" stroke-width="0.8" />
<circle cx="141.70" cy="663.90" r="0.8" fill="#30a8e0"/>
<text x="151.10" y="667.10" font-size="8.9" fill="#333" text-anchor="start" font-weight="normal" >RAD23A</text>
<line x1="137.20" y1="679.85" x2="146.20" y2="679.85" stroke="#e060c0" stroke-width="0.8" />
<circle cx="141.70" cy="679.85" r="0.8" fill="#e060c0"/>
<text x="151.10" y="683.05" font-size="8.9" fill="#333" text-anchor="start" font-weight="normal" >UBE2V2</text>
<line x1="137.20" y1="695.80" x2="146.20" y2="695.80" stroke="#30c0a0" stroke-width="0.8" />
<circle cx="141.70" cy="695.80" r="0.8" fill="#30c0a0"/>
<text x="151.10" y="699.00" font-size="8.9" fill="#333" text-anchor="start" font-weight="normal" >MSH2</text>
<line x1="137.20" y1="711.75" x2="146.20" y2="711.75" stroke="#30c0c0" stroke-width="0.8" />
<circle cx="141.70" cy="711.75" r="0.8" fill="#30c0c0"/>
<text x="151.10" y="714.95" font-size="8.9" fill="#333" text-anchor="start" font-weight="normal" >ORC1</text>
<line x1="227.70" y1="632.00" x2="236.70" y2="632.00" stroke="#d89a30" stroke-width="0.8" />
<circle cx="232.20" cy="632.00" r="0.8" fill="#d89a30"/>
<text x="241.50" y="635.20" font-size="8.9" fill="#333" text-anchor="start" font-weight="normal" >CHTF8</text>
<line x1="227.70" y1="647.95" x2="236.70" y2="647.95" stroke="#30c070" stroke-width="0.8" />
<circle cx="232.20" cy="647.95" r="0.8" fill="#30c070"/>
<text x="241.50" y="651.15" font-size="8.9" fill="#333" text-anchor="start" font-weight="normal" >HS2ST1</text>
<line x1="227.70" y1="663.90" x2="236.70" y2="663.90" stroke="#6090e0" stroke-width="0.8" />
<circle cx="232.20" cy="663.90" r="0.8" fill="#6090e0"/>
<text x="241.50" y="667.10" font-size="8.9" fill="#333" text-anchor="start" font-weight="normal" >RFC3</text>
<line x1="227.70" y1="679.85" x2="236.70" y2="679.85" stroke="#f06090" stroke-width="0.8" />
<circle cx="232.20" cy="679.85" r="0.8" fill="#f06090"/>
<text x="241.50" y="683.05" font-size="8.9" fill="#333" text-anchor="start" font-weight="normal" >ZPR1</text>
<line x1="227.70" y1="695.80" x2="236.70" y2="695.80" stroke="#8a80e8" stroke-width="0.8" />
<circle cx="232.20" cy="695.80" r="0.8" fill="#8a80e8"/>
<text x="241.50" y="699.00" font-size="8.9" fill="#333" text-anchor="start" font-weight="normal" >RPA2</text>
<line x1="227.70" y1="711.75" x2="236.70" y2="711.75" stroke="#b070e0" stroke-width="0.8" />
<circle cx="232.20" cy="711.75" r="0.8" fill="#b070e0"/>
<text x="241.50" y="714.95" font-size="8.9" fill="#333" text-anchor="start" font-weight="normal" >UBE2E1</text>
<polyline points="42.20,800.00 54.64,796.00 67.09,806.50 79.53,812.50 123.09,808.00 210.19,803.00 297.30,798.00" fill="none" stroke="#f0787a" stroke-width="0.75"/>
<circle cx="42.20" cy="800.00" r="0.9" fill="#f0787a"/>
<circle cx="54.64" cy="796.00" r="0.9" fill="#f0787a"/>
<circle cx="67.09" cy="806.50" r="0.9" fill="#f0787a"/>
<circle cx="79.53" cy="812.50" r="0.9" fill="#f0787a"/>
<circle cx="123.09" cy="808.00" r="0.9" fill="#f0787a"/>
<circle cx="210.19" cy="803.00" r="0.9" fill="#f0787a"/>
<circle cx="297.30" cy="798.00" r="0.9" fill="#f0787a"/>
<polyline points="42.20,794.42 54.64,798.42 67.09,793.79 79.53,797.50 123.09,799.49 210.19,796.77 297.30,792.70" fill="none" stroke="#60b840" stroke-width="0.75"/>
<circle cx="42.20" cy="794.42" r="0.9" fill="#60b840"/>
<circle cx="54.64" cy="798.42" r="0.9" fill="#60b840"/>
<circle cx="67.09" cy="793.79" r="0.9" fill="#60b840"/>
<circle cx="79.53" cy="797.50" r="0.9" fill="#60b840"/>
<circle cx="123.09" cy="799.49" r="0.9" fill="#60b840"/>
<circle cx="210.19" cy="796.77" r="0.9" fill="#60b840"/>
<circle cx="297.30" cy="792.70" r="0.9" fill="#60b840"/>
<polyline points="42.20,796.00 54.64,805.00 67.09,812.00 79.53,800.00 123.09,806.00 210.19,800.00 297.30,805.00" fill="none" stroke="#40b8e0" stroke-width="0.75"/>
<circle cx="42.20" cy="796.00" r="0.9" fill="#40b8e0"/>
<circle cx="54.64" cy="805.00" r="0.9" fill="#40b8e0"/>
<circle cx="67.09" cy="812.00" r="0.9" fill="#40b8e0"/>
<circle cx="79.53" cy="800.00" r="0.9" fill="#40b8e0"/>
<circle cx="123.09" cy="806.00" r="0.9" fill="#40b8e0"/>
<circle cx="210.19" cy="800.00" r="0.9" fill="#40b8e0"/>
<circle cx="297.30" cy="805.00" r="0.9" fill="#40b8e0"/>
<polyline points="42.20,793.58 54.64,796.79 67.09,791.17 79.53,791.97 123.09,804.16 210.19,802.74 297.30,792.47" fill="none" stroke="#d070d0" stroke-width="0.75"/>
<circle cx="42.20" cy="793.58" r="0.9" fill="#d070d0"/>
<circle cx="54.64" cy="796.79" r="0.9" fill="#d070d0"/>
<circle cx="67.09" cy="791.17" r="0.9" fill="#d070d0"/>
<circle cx="79.53" cy="791.97" r="0.9" fill="#d070d0"/>
<circle cx="123.09" cy="804.16" r="0.9" fill="#d070d0"/>
<circle cx="210.19" cy="802.74" r="0.9" fill="#d070d0"/>
<circle cx="297.30" cy="792.47" r="0.9" fill="#d070d0"/>
<polyline points="42.20,802.48 54.64,801.31 67.09,801.10 79.53,802.63 123.09,807.31 210.19,796.10 297.30,797.48" fill="none" stroke="#a8a030" stroke-width="0.75"/>
<circle cx="42.20" cy="802.48" r="0.9" fill="#a8a030"/>
<circle cx="54.64" cy="801.31" r="0.9" fill="#a8a030"/>
<circle cx="67.09" cy="801.10" r="0.9" fill="#a8a030"/>
<circle cx="79.53" cy="802.63" r="0.9" fill="#a8a030"/>
<circle cx="123.09" cy="807.31" r="0.9" fill="#a8a030"/>
<circle cx="210.19" cy="796.10" r="0.9" fill="#a8a030"/>
<circle cx="297.30" cy="797.48" r="0.9" fill="#a8a030"/>
<polyline points="42.20,790.29 54.64,791.46 67.09,795.26 79.53,793.24 123.09,802.90 210.19,800.74 297.30,798.99" fill="none" stroke="#90a830" stroke-width="0.75"/>
<circle cx="42.20" cy="790.29" r="0.9" fill="#90a830"/>
<circle cx="54.64" cy="791.46" r="0.9" fill="#90a830"/>
<circle cx="67.09" cy="795.26" r="0.9" fill="#90a830"/>
<circle cx="79.53" cy="793.24" r="0.9" fill="#90a830"/>
<circle cx="123.09" cy="802.90" r="0.9" fill="#90a830"/>
<circle cx="210.19" cy="800.74" r="0.9" fill="#90a830"/>
<circle cx="297.30" cy="798.99" r="0.9" fill="#90a830"/>
<polyline points="42.20,808.00 54.64,794.00 67.09,800.00 79.53,802.00 123.09,816.00 210.19,812.50 297.30,808.30" fill="none" stroke="#f08a40" stroke-width="0.75"/>
<circle cx="42.20" cy="808.00" r="0.9" fill="#f08a40"/>
<circle cx="54.64" cy="794.00" r="0.9" fill="#f08a40"/>
<circle cx="67.09" cy="800.00" r="0.9" fill="#f08a40"/>
<circle cx="79.53" cy="802.00" r="0.9" fill="#f08a40"/>
<circle cx="123.09" cy="816.00" r="0.9" fill="#f08a40"/>
<circle cx="210.19" cy="812.50" r="0.9" fill="#f08a40"/>
<circle cx="297.30" cy="808.30" r="0.9" fill="#f08a40"/>
<polyline points="42.20,819.40 54.64,812.00 67.09,800.00 79.53,804.00 123.09,820.00 210.19,812.70 297.30,811.50" fill="none" stroke="#40b850" stroke-width="0.75"/>
<circle cx="42.20" cy="819.40" r="0.9" fill="#40b850"/>
<circle cx="54.64" cy="812.00" r="0.9" fill="#40b850"/>
<circle cx="67.09" cy="800.00" r="0.9" fill="#40b850"/>
<circle cx="79.53" cy="804.00" r="0.9" fill="#40b850"/>
<circle cx="123.09" cy="820.00" r="0.9" fill="#40b850"/>
<circle cx="210.19" cy="812.70" r="0.9" fill="#40b850"/>
<circle cx="297.30" cy="811.50" r="0.9" fill="#40b850"/>
<polyline points="42.20,796.77 54.64,796.37 67.09,799.17 79.53,798.01 123.09,804.44 210.19,800.33 297.30,793.52" fill="none" stroke="#30a8e0" stroke-width="0.75"/>
<circle cx="42.20" cy="796.77" r="0.9" fill="#30a8e0"/>
<circle cx="54.64" cy="796.37" r="0.9" fill="#30a8e0"/>
<circle cx="67.09" cy="799.17" r="0.9" fill="#30a8e0"/>
<circle cx="79.53" cy="798.01" r="0.9" fill="#30a8e0"/>
<circle cx="123.09" cy="804.44" r="0.9" fill="#30a8e0"/>
<circle cx="210.19" cy="800.33" r="0.9" fill="#30a8e0"/>
<circle cx="297.30" cy="793.52" r="0.9" fill="#30a8e0"/>
<polyline points="42.20,795.67 54.64,800.70 67.09,801.47 79.53,799.94 123.09,806.73 210.19,798.38 297.30,796.56" fill="none" stroke="#e060c0" stroke-width="0.75"/>
<circle cx="42.20" cy="795.67" r="0.9" fill="#e060c0"/>
<circle cx="54.64" cy="800.70" r="0.9" fill="#e060c0"/>
<circle cx="67.09" cy="801.47" r="0.9" fill="#e060c0"/>
<circle cx="79.53" cy="799.94" r="0.9" fill="#e060c0"/>
<circle cx="123.09" cy="806.73" r="0.9" fill="#e060c0"/>
<circle cx="210.19" cy="798.38" r="0.9" fill="#e060c0"/>
<circle cx="297.30" cy="796.56" r="0.9" fill="#e060c0"/>
<polyline points="42.20,795.00 54.64,800.00 67.09,798.00 79.53,801.00 123.09,791.40 210.19,795.00 297.30,793.00" fill="none" stroke="#30c0a0" stroke-width="0.75"/>
<circle cx="42.20" cy="795.00" r="0.9" fill="#30c0a0"/>
<circle cx="54.64" cy="800.00" r="0.9" fill="#30c0a0"/>
<circle cx="67.09" cy="798.00" r="0.9" fill="#30c0a0"/>
<circle cx="79.53" cy="801.00" r="0.9" fill="#30c0a0"/>
<circle cx="123.09" cy="791.40" r="0.9" fill="#30c0a0"/>
<circle cx="210.19" cy="795.00" r="0.9" fill="#30c0a0"/>
<circle cx="297.30" cy="793.00" r="0.9" fill="#30c0a0"/>
<polyline points="42.20,807.48 54.64,803.71 67.09,805.23 79.53,800.40 123.09,809.69 210.19,795.13 297.30,795.86" fill="none" stroke="#30c0c0" stroke-width="0.75"/>
<circle cx="42.20" cy="807.48" r="0.9" fill="#30c0c0"/>
<circle cx="54.64" cy="803.71" r="0.9" fill="#30c0c0"/>
<circle cx="67.09" cy="805.23" r="0.9" fill="#30c0c0"/>
<circle cx="79.53" cy="800.40" r="0.9" fill="#30c0c0"/>
<circle cx="123.09" cy="809.69" r="0.9" fill="#30c0c0"/>
<circle cx="210.19" cy="795.13" r="0.9" fill="#30c0c0"/>
<circle cx="297.30" cy="795.86" r="0.9" fill="#30c0c0"/>
<polyline points="42.20,797.87 54.64,801.39 67.09,799.04 79.53,798.63 123.09,802.22 210.19,796.30 297.30,800.71" fill="none" stroke="#d89a30" stroke-width="0.75"/>
<circle cx="42.20" cy="797.87" r="0.9" fill="#d89a30"/>
<circle cx="54.64" cy="801.39" r="0.9" fill="#d89a30"/>
<circle cx="67.09" cy="799.04" r="0.9" fill="#d89a30"/>
<circle cx="79.53" cy="798.63" r="0.9" fill="#d89a30"/>
<circle cx="123.09" cy="802.22" r="0.9" fill="#d89a30"/>
<circle cx="210.19" cy="796.30" r="0.9" fill="#d89a30"/>
<circle cx="297.30" cy="800.71" r="0.9" fill="#d89a30"/>
<polyline points="42.20,793.64 54.64,794.44 67.09,797.11 79.53,796.60 123.09,803.66 210.19,801.73 297.30,801.58" fill="none" stroke="#30c070" stroke-width="0.75"/>
<circle cx="42.20" cy="793.64" r="0.9" fill="#30c070"/>
<circle cx="54.64" cy="794.44" r="0.9" fill="#30c070"/>
<circle cx="67.09" cy="797.11" r="0.9" fill="#30c070"/>
<circle cx="79.53" cy="796.60" r="0.9" fill="#30c070"/>
<circle cx="123.09" cy="803.66" r="0.9" fill="#30c070"/>
<circle cx="210.19" cy="801.73" r="0.9" fill="#30c070"/>
<circle cx="297.30" cy="801.58" r="0.9" fill="#30c070"/>
<polyline points="42.20,792.37 54.64,792.82 67.09,792.83 79.53,794.84 123.09,804.45 210.19,796.06 297.30,797.66" fill="none" stroke="#6090e0" stroke-width="0.75"/>
<circle cx="42.20" cy="792.37" r="0.9" fill="#6090e0"/>
<circle cx="54.64" cy="792.82" r="0.9" fill="#6090e0"/>
<circle cx="67.09" cy="792.83" r="0.9" fill="#6090e0"/>
<circle cx="79.53" cy="794.84" r="0.9" fill="#6090e0"/>
<circle cx="123.09" cy="804.45" r="0.9" fill="#6090e0"/>
<circle cx="210.19" cy="796.06" r="0.9" fill="#6090e0"/>
<circle cx="297.30" cy="797.66" r="0.9" fill="#6090e0"/>
<polyline points="42.20,806.91 54.64,805.51 67.09,806.33 79.53,806.80 123.09,810.37 210.19,800.78 297.30,795.92" fill="none" stroke="#f06090" stroke-width="0.75"/>
<circle cx="42.20" cy="806.91" r="0.9" fill="#f06090"/>
<circle cx="54.64" cy="805.51" r="0.9" fill="#f06090"/>
<circle cx="67.09" cy="806.33" r="0.9" fill="#f06090"/>
<circle cx="79.53" cy="806.80" r="0.9" fill="#f06090"/>
<circle cx="123.09" cy="810.37" r="0.9" fill="#f06090"/>
<circle cx="210.19" cy="800.78" r="0.9" fill="#f06090"/>
<circle cx="297.30" cy="795.92" r="0.9" fill="#f06090"/>
<polyline points="42.20,795.02 54.64,799.26 67.09,794.68 79.53,794.73 123.09,799.68 210.19,792.00 297.30,793.51" fill="none" stroke="#8a80e8" stroke-width="0.75"/>
<circle cx="42.20" cy="795.02" r="0.9" fill="#8a80e8"/>
<circle cx="54.64" cy="799.26" r="0.9" fill="#8a80e8"/>
<circle cx="67.09" cy="794.68" r="0.9" fill="#8a80e8"/>
<circle cx="79.53" cy="794.73" r="0.9" fill="#8a80e8"/>
<circle cx="123.09" cy="799.68" r="0.9" fill="#8a80e8"/>
<circle cx="210.19" cy="792.00" r="0.9" fill="#8a80e8"/>
<circle cx="297.30" cy="793.51" r="0.9" fill="#8a80e8"/>
<polyline points="42.20,793.23 54.64,790.52 67.09,797.31 79.53,795.23 123.09,803.73 210.19,793.35 297.30,800.49" fill="none" stroke="#b070e0" stroke-width="0.75"/>
<circle cx="42.20" cy="793.23" r="0.9" fill="#b070e0"/>
<circle cx="54.64" cy="790.52" r="0.9" fill="#b070e0"/>
<circle cx="67.09" cy="797.31" r="0.9" fill="#b070e0"/>
<circle cx="79.53" cy="795.23" r="0.9" fill="#b070e0"/>
<circle cx="123.09" cy="803.73" r="0.9" fill="#b070e0"/>
<circle cx="210.19" cy="793.35" r="0.9" fill="#b070e0"/>
<circle cx="297.30" cy="800.49" r="0.9" fill="#b070e0"/>
<line x1="28.80" y1="791.40" x2="320.00" y2="791.40" stroke="#8c8c8c" stroke-width="1.3" stroke-dasharray="10,10.1"/>
<text x="336.00" y="621.80" font-size="15" fill="#111" text-anchor="start" font-weight="normal" >i</text>
<text x="353.60" y="611.00" font-size="9.33" fill="#e42a30" text-anchor="start" font-weight="normal" >YAP−specific genes</text>
<text x="353.60" y="622.40" font-size="9.33" fill="#e42a30" text-anchor="start" font-weight="normal" >downregulated in KO</text>
<text x="594.00" y="611.00" font-size="9.33" fill="#3cb048" text-anchor="start" font-weight="normal" >TAZ−specific genes</text>
<text x="594.00" y="622.40" font-size="9.33" fill="#3cb048" text-anchor="start" font-weight="normal" >upregulated in KO</text>
<text x="464.10" y="617.10" font-size="14.1" fill="#111" text-anchor="start" font-weight="normal" >GO Enrichment</text>
<rect x="359.30" y="626.40" width="39.60" height="14.00" fill="#a8272b" />
<rect x="619.40" y="626.40" width="48.40" height="14.00" fill="#2f5f2f" />
<text x="435.50" y="636.40" font-size="9.05" fill="#222" text-anchor="start" font-weight="normal" >DNA−templated DNA replication</text>
<rect x="364.30" y="643.77" width="34.60" height="14.00" fill="#a8272b" />
<rect x="619.40" y="643.77" width="39.30" height="14.00" fill="#2f5f2f" />
<text x="467.80" y="653.90" font-size="9.05" fill="#222" text-anchor="start" font-weight="normal" >meiotic cell cycle</text>
<rect x="373.90" y="661.14" width="25.00" height="14.00" fill="#a8272b" />
<rect x="619.40" y="661.14" width="38.20" height="14.00" fill="#2f5f2f" />
<text x="441.30" y="671.40" font-size="9.05" fill="#222" text-anchor="start" font-weight="normal" >cell cycle checkpoint signaling</text>
<rect x="366.70" y="678.51" width="32.20" height="14.00" fill="#a8272b" />
<rect x="619.40" y="678.51" width="33.50" height="14.00" fill="#2f5f2f" />
<text x="427.90" y="688.50" font-size="9.05" fill="#222" text-anchor="start" font-weight="normal" >mitotic DNA integrity checkpoint signaling</text>
<rect x="371.20" y="695.88" width="27.70" height="14.00" fill="#a8272b" />
<rect x="619.40" y="695.88" width="32.80" height="14.00" fill="#2f5f2f" />
<text x="414.00" y="705.50" font-size="9.05" fill="#222" text-anchor="start" font-weight="normal" >signal transduction in response to DNA damage</text>
<rect x="360.50" y="713.25" width="38.40" height="14.00" fill="#a8272b" />
<rect x="619.40" y="713.25" width="32.50" height="14.00" fill="#2f5f2f" />
<text x="475.90" y="721.50" font-size="9.05" fill="#222" text-anchor="start" font-weight="normal" >nuclear division</text>
<rect x="365.10" y="730.62" width="33.80" height="14.00" fill="#a8272b" />
<rect x="619.40" y="730.62" width="32.50" height="14.00" fill="#2f5f2f" />
<text x="421.00" y="738.40" font-size="9.05" fill="#222" text-anchor="start" font-weight="normal" >mitotic DNA damage checkpoint signaling</text>
<rect x="364.70" y="747.99" width="34.20" height="14.00" fill="#a8272b" />
<rect x="619.40" y="747.99" width="29.90" height="14.00" fill="#2f5f2f" />
<text x="432.70" y="755.70" font-size="9.05" fill="#222" text-anchor="start" font-weight="normal" >DNA integrity checkpoint signaling</text>
<rect x="372.20" y="765.36" width="26.70" height="14.00" fill="#a8272b" />
<rect x="619.40" y="765.36" width="21.40" height="14.00" fill="#2f5f2f" />
<text x="459.90" y="774.40" font-size="9.05" fill="#222" text-anchor="start" font-weight="normal" >DNA replication initiation</text>
<rect x="369.20" y="782.73" width="29.70" height="14.00" fill="#a8272b" />
<rect x="619.40" y="782.73" width="21.40" height="14.00" fill="#2f5f2f" />
<text x="456.00" y="790.80" font-size="9.05" fill="#222" text-anchor="start" font-weight="normal" >meiotic cell cycle process</text>
<rect x="368.80" y="800.10" width="30.10" height="14.00" fill="#a8272b" />
<rect x="619.40" y="800.10" width="15.20" height="14.00" fill="#2f5f2f" />
<text x="440.90" y="807.60" font-size="9.05" fill="#222" text-anchor="start" font-weight="normal" >smooth muscle cell proliferation</text>
<rect x="363.70" y="817.47" width="35.20" height="14.00" fill="#a8272b" />
<rect x="619.40" y="817.47" width="14.80" height="14.00" fill="#2f5f2f" />
<text x="487.00" y="824.30" font-size="9.05" fill="#222" text-anchor="start" font-weight="normal" >DNA repair</text>
<rect x="372.80" y="834.84" width="26.10" height="14.00" fill="#a8272b" />
<rect x="619.40" y="834.84" width="14.40" height="14.00" fill="#2f5f2f" />
<text x="444.90" y="840.50" font-size="9.05" fill="#222" text-anchor="start" font-weight="normal" >DNA−templated DNA replication</text>
<text x="464.50" y="851.40" font-size="9.05" fill="#222" text-anchor="start" font-weight="normal" >maintenance of fidelity</text>
<text x="362.10" y="859.70" font-size="11.3" fill="#444" text-anchor="middle" font-weight="normal" >2</text>
<text x="379.80" y="859.70" font-size="11.3" fill="#444" text-anchor="middle" font-weight="normal" >1</text>
<text x="397.50" y="859.70" font-size="11.3" fill="#444" text-anchor="middle" font-weight="normal" >0</text>
<text x="622.30" y="859.70" font-size="11.3" fill="#444" text-anchor="middle" font-weight="normal" >0</text>
<text x="634.20" y="859.70" font-size="11.3" fill="#444" text-anchor="middle" font-weight="normal" >1</text>
<text x="648.30" y="859.70" font-size="11.3" fill="#444" text-anchor="middle" font-weight="normal" >2</text>
<text x="662.30" y="859.70" font-size="11.3" fill="#444" text-anchor="middle" font-weight="normal" >3</text>
<text x="356.10" y="872.60" font-size="11.6" fill="#222" text-anchor="start" font-weight="normal" >-log 10 (p-value)</text>
<text x="589.00" y="872.60" font-size="11.6" fill="#222" text-anchor="start" font-weight="normal" >-log 10 (p-value)</text>
</svg></body></html>
